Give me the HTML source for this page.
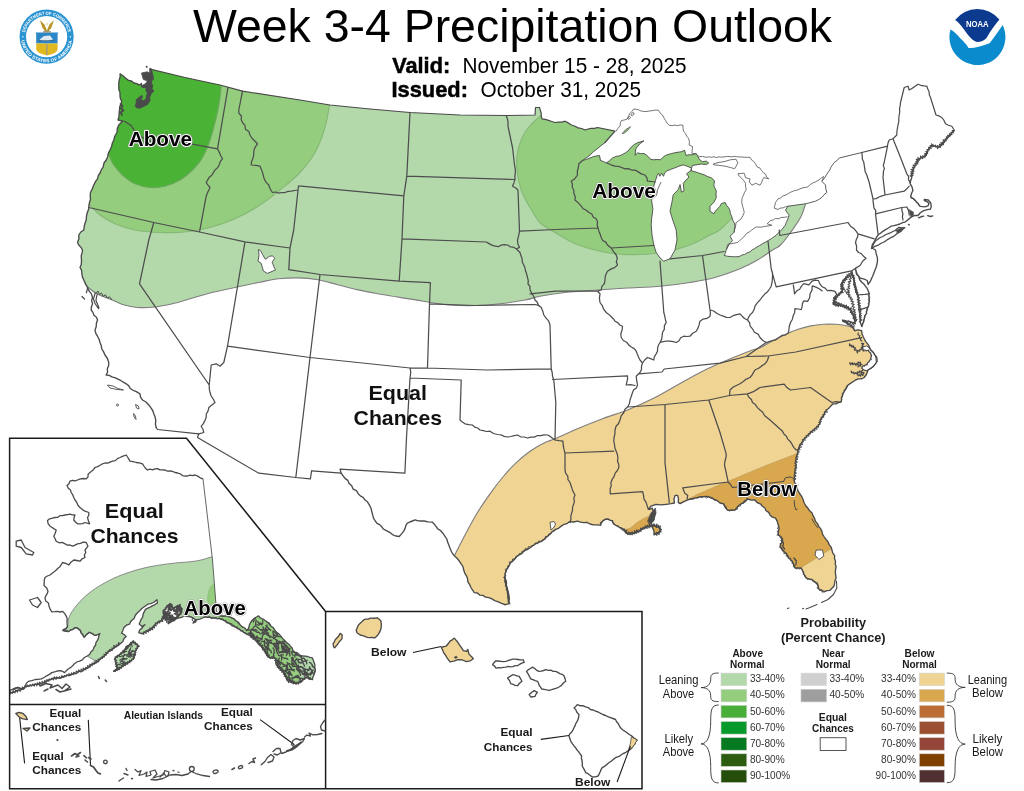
<!DOCTYPE html><html><head><meta charset="utf-8"><title>Week 3-4 Precipitation Outlook</title>
<style>html,body{margin:0;padding:0;background:#fff}svg{display:block;will-change:transform}text{font-family:"Liberation Sans",sans-serif}.b{font-weight:bold}</style></head><body>
<svg width="1024" height="791" viewBox="0 0 1024 791">
<rect width="1024" height="791" fill="#fff"/>
<defs>
<clipPath id="cl"><path d="M150.2 69.2 L185 77.5 L220 85 L242.5 91.2 L300 100 L330 105 L370 109 L410 112.5 L460 115 L507.5 115.5 L535 115 L535.3 111.3 L535.5 107.5 L539.5 107.5 L540.3 110.3 L541.2 113 L541.2 116 L542 118.8 L545.3 119.4 L548.6 120.4 L551.8 121.5 L555 122.5 L558.3 122.2 L561.7 122.1 L565 121.2 L568.3 122.9 L571.5 125 L575 126.2 L578.2 127.9 L581.7 128.5 L585 130 L588 129 L591.2 128.4 L594.4 128.4 L597.5 127.5 L615 131.2 L605 142.5 L592.5 152.5 L590.3 154.9 L587.7 156.8 L585.1 158.6 L582.5 160.5 L586.3 159.4 L590 158 L593.1 156.8 L596.2 156 L599.5 155.5 L600.5 160.5 L603.5 161.5 L606.2 163 L609.5 160.7 L612.5 158 L615.7 156.5 L619.2 155.9 L622.5 154.5 L625.3 152.9 L628 151 L631.3 147.1 L634.2 144.6 L637.6 142.7 L640.8 141.8 L644 140.8 L639.5 144 L637.6 146.5 L635.7 149 L635.5 152.2 L635.1 155.4 L637.6 152.8 L640.7 153.7 L644 153.5 L646.4 155.1 L648.5 156.9 L650.3 159.2 L653.7 159.8 L657.1 159.5 L660.5 159.8 L662.8 157.4 L665.5 155.4 L668.7 154.3 L671.9 153.5 L675 152.7 L678.2 152.2 L681.5 151.7 L684.6 150.3 L685.9 155.4 L689 154.8 L692.2 154.8 L696 153.5 L697.8 156.2 L699.2 159.2 L702.4 161.7 L706.2 161.1 L708.7 163 L706.2 164.5 L701.1 164 L696 164.9 L692.2 165.5 L691.6 168.1 L690.9 170.6 L694.1 171.6 L697.3 172.5 L701.1 173.8 L704.9 175.1 L707.9 176.8 L711.2 177.6 L714.4 180.8 L713.8 185.9 L716.3 190.9 L716 194.1 L716.3 197.3 L715.2 199.9 L713.8 202.4 L710 206.2 L710 211.2 L713.8 213.8 L715.5 211.1 L717.6 208.7 L719.8 206.4 L721.4 203.6 L725.2 202.4 L726.4 205.2 L728.4 207.4 L729.9 210.2 L730.3 213.4 L731.6 216.3 L732.8 220.2 L734.7 223.9 L735 228 L733.8 232.5 L730 236.2 L732.5 240.5 L730.5 242.7 L728.8 245 L726.2 250 L725.5 252.8 L724.2 255.5 L727.7 256.3 L731.2 256.6 L735.2 256.8 L739.1 256.6 L741.7 255.1 L744.6 254.4 L747.2 252.8 L750 251.9 L752.1 249.9 L754.6 248.6 L757 247 L759.4 245.6 L762.5 243.7 L765.7 242.1 L768.8 240.2 L771.3 238.7 L773.7 237 L776.1 235.3 L778.1 233.1 L780.8 230.8 L783 228.1 L785.2 225.3 L786.2 222.6 L787.5 220 L789.2 215 L787.1 212.7 L785.5 210 L788 206.2 L805.5 203.8 L808.9 203 L812.2 202.1 L815.5 201.2 L818.7 199.5 L821.8 197.5 L824 194.7 L826.8 192.5 L825.8 188.8 L825.5 185 L821.8 181.2 L824.2 178.6 L826 175.5 L828 172.5 L829.7 170.1 L830.8 167.3 L832.6 164.9 L834.2 162.5 L837 160.6 L839.2 158 L861.8 152.5 L887.5 146.2 L888 143 L889.2 140 L893 138.8 L896.8 135 L896.9 131.6 L897.4 128.3 L898 125 L898.8 121.7 L898.8 118.3 L899.2 115 L899.8 111.9 L899.5 108.7 L900.2 105.6 L900.5 102.5 L904.2 87.5 L908 86.2 L909.2 90 L912.3 88.3 L915.1 86.2 L918 84.2 L920.8 85.3 L923.8 85.9 L926.8 86.2 L927.8 89 L929.1 91.7 L929.3 94.8 L930.5 97.5 L936 115 L939 115.9 L941.8 117.5 L944 120.4 L945.5 123.8 L948.5 125.2 L951.8 126.2 L954.2 130 L952.1 132.3 L950.5 135 L946.8 138.8 L944.8 141.2 L943 143.8 L940.4 145.5 L938 147.5 L933 145 L930.1 147.1 L928 150 L927.1 153.3 L925.5 156.2 L922.3 157.3 L919.2 158.8 L916.8 161.6 L915.5 165 L913 170 L911.7 173.6 L911.8 177.5 L910 182.5 L910.1 183.7 L912 186.9 L912.9 190.5 L911.5 193.5 L910.6 196.7 L914.6 199.6 L918 203.6 L920.3 206.4 L924.8 206.9 L928 205.8 L929 203.5 L927 201.5 L924.3 200.5 L924.3 199.3 L928 199.8 L930.8 203 L931.2 207 L930.3 209.3 L928.3 209.3 L923.7 210.6 L920.3 212.7 L918 215.5 L914.6 215.5 L911.2 217.2 L908.9 218.9 L905.5 221.8 L902.6 222.7 L899.8 224 L896.9 224.8 L894.1 225.7 L891 226.2 L888.4 228 L885.6 229.7 L882.8 231.4 L880.5 233.2 L878.2 234.8 L875.9 238.3 L874.2 242 L872.3 244.7 L871.8 248 L875.5 250 L876.2 253.9 L877.4 257.6 L877.5 260.8 L877 264 L876.2 267.2 L874.9 270.3 L873.8 273.2 L872.7 276 L870.4 281.1 L868.2 284.5 L867.3 280.5 L863.5 278.9 L860.3 278.2 L857.1 274.1 L855.5 269 L856.5 274.1 L858.7 276.6 L859.7 279.8 L861.8 282.2 L864.1 284.3 L867.3 288.7 L869.2 293.2 L868.9 296.4 L869.4 299.5 L869.1 302.7 L868.5 305.9 L866.9 309.6 L866.4 313.5 L864.6 316.4 L864.1 319.8 L862.9 323.2 L861.9 326.6 L860.3 322.4 L860.5 319.4 L859.5 316.5 L860 313.5 L858.8 309.8 L859 305.9 L858.4 300.8 L858.5 297.4 L857.1 294.4 L855.8 291.3 L855.2 288.1 L854.1 285 L853.9 281.7 L853.8 278.1 L852.4 274.8 L851.7 271.8 L848.9 275.4 L846.1 277.3 L843.8 279.8 L840.9 284.5 L842.3 287.4 L842.5 290.6 L839.3 293.8 L837 296.2 L834.3 298.2 L834.1 301.2 L833 304 L837.4 305.2 L840.7 305.5 L843.8 306.5 L847 307 L849.5 309 L852.7 313.5 L853.6 316.7 L854.6 319.8 L855.2 323.6 L851.9 322.6 L848.9 321.1 L845.7 320.8 L842.5 320.2 L845.4 321.9 L847.6 324.3 L850.5 325.3 L852.7 327.4 L854.6 330.6 L858.1 329.9 L861.6 330.6 L861.9 333.5 L863 336.2 L864.2 338.8 L865.7 341.6 L867.9 344.1 L869.4 346.9 L870.5 350 L873.1 352.1 L874.9 354.8 L876.8 357.5 L877.2 361.2 L875.5 363.8 L873.5 366.4 L870.7 368.2 L868 370 L866.6 374 L864.2 377.5 L861.5 378.8 L858.3 378.9 L855.5 380 L853 381.7 L850.5 383.4 L848 385 L846.5 388 L844.6 390.8 L843 393.8 L841.7 397.7 L841.2 401.8 L838.6 402.7 L835.9 403.8 L833 403.8 L830.9 405.9 L829 408.1 L826.8 410 L824.7 412.3 L823.9 415.3 L821.8 417.5 L820 420.2 L820 423.6 L818 426.2 L814.8 428.7 L811.8 431.2 L808.9 434.2 L806 437 L803 440 L802 442.7 L799.9 444.8 L798.9 447.4 L797.9 450.1 L797.8 453.2 L796.6 456 L796 459 L795.5 462.1 L796.1 465.4 L795.8 468.5 L794.8 471.6 L794.5 475 L794.2 478.3 L794.4 481.7 L795.6 484.6 L796.8 487.6 L797.9 490.6 L799.6 493.5 L801.6 496.3 L803 499.4 L804.1 502.7 L805.7 505.7 L808 508.3 L809.7 510.8 L812 512.9 L813.1 515.9 L814.6 518.4 L815.5 521.4 L817.5 523.6 L818.7 526.4 L820.6 528.6 L821.9 531.2 L822.5 534.1 L824 536.5 L825.6 538.9 L827.8 541.5 L829.2 544.6 L831.2 547.3 L832 550.2 L832.8 553.1 L834.7 555.6 L834.5 558.5 L835.5 561.2 L835.3 564.1 L836.1 566.8 L835.4 570.5 L835.5 574.2 L836.1 577.9 L835 580.6 L834.6 583.4 L834 586.2 L831.9 588.3 L829.8 590.4 L826.9 590.6 L824.2 591.8 L821.5 590.2 L818.7 589 L818.3 586.1 L817.3 583.4 L814.2 581.7 L811.7 579.3 L808.8 579.2 L806.2 577.9 L804.1 574.6 L802.7 570.9 L801.3 568.1 L798.1 568 L795 568.1 L793.7 564.6 L792.2 561.2 L789.8 559.1 L787.7 556.7 L786.5 553.5 L783.9 551.5 L780.4 547.3 L780.4 544.3 L782.5 541.9 L782.5 538.9 L780.7 536.5 L778.3 534.8 L778.4 531.5 L779.1 528.3 L778.3 525 L777.2 521.4 L775.6 518.1 L772.4 517.2 L770 515 L768.7 512.4 L766.1 510.7 L764.9 508 L762.5 506.2 L760.3 503.8 L757.1 502.5 L755 500 L751.1 500.1 L747.5 498.8 L744.9 501.8 L741.2 503.8 L738.8 505.5 L736.8 507.6 L735 510 L731.2 510.4 L727.5 510 L725.1 507.2 L723.8 503.8 L720 503 L716.9 500.5 L713.7 499.1 L710.6 497.3 L707.5 496.5 L704.2 496.7 L701 496.6 L697.9 497.3 L692.8 498.6 L687.8 499.8 L683.9 501.7 L680.1 503.6 L678.2 502.4 L678.5 498.8 L677.6 495.4 L675.1 495.4 L674 499.1 L674.4 503 L671.2 503.6 L666.2 504.3 L661.1 504.9 L656 504.3 L650.9 506.2 L648.4 509.4 L649.7 509.4 L652.2 508.1 L653.1 510.8 L654.8 513.2 L653.9 516.3 L654.1 519.5 L650.9 523.3 L652.2 527.1 L653.9 530.7 L654.1 534.8 L656.3 532.8 L659.2 532.2 L660.5 528.4 L656 525.9 L650.9 525.9 L647.6 526.3 L644.6 527.8 L642 529.2 L639.5 530.9 L636.5 532.5 L633.2 533.5 L630 534.1 L626.8 533.5 L624.7 531.4 L623 529 L620.3 528 L617.9 526.5 L613.5 524 L612.2 520.8 L609.3 519.9 L606.5 518.9 L602.7 520.8 L600.2 525.2 L596.8 524.9 L593.3 524.9 L590 524 L586.9 522.3 L583.7 522.6 L580.6 522.1 L577.5 521.2 L573.6 522 L569.7 521.6 L566.8 523.7 L563.4 524.7 L560.9 526.4 L558.5 528.3 L555.6 529.4 L552.2 531.7 L549.4 534.8 L546.2 537.5 L543.1 540.3 L540 541.9 L536.8 543.2 L533.8 545 L530.8 547.2 L527.9 549.3 L524.4 550.5 L522.2 553.1 L519.4 554.8 L516.6 556.7 L514.7 559 L512.7 561.2 L510.3 563 L508.6 566.7 L506.4 570 L505.1 573.8 L504.8 577.8 L506.4 581.5 L506.4 585.6 L507.3 588.7 L508.1 591.8 L508.8 595 L509.3 597.8 L508.9 600.8 L509.5 603.6 L505 604.7 L501.6 603.3 L498.2 601.8 L494.7 600.6 L491.9 598.9 L488.9 597.7 L485.6 597.2 L483 595.4 L479.9 595.2 L477.4 593 L474.3 592.6 L472.6 590.1 L470.9 587.5 L469.7 584.7 L467.9 581.9 L467.5 578.6 L466.3 575.6 L464.6 572.8 L463.7 569.7 L462.9 566.5 L461.1 563.8 L459.3 561.1 L457.3 558.5 L454.9 556.2 L452.8 554 L451.4 551.5 L450.2 548.8 L449.2 546 L447.8 542.6 L446.8 539 L444.7 535.8 L442.8 533.2 L440.7 530.7 L437.9 529 L436.1 526.6 L434.3 524.2 L432.2 522.1 L428.1 521.9 L424.2 521 L421.1 521 L418.1 520.8 L415.1 519.9 L412.4 521 L409.7 522 L407.1 523.3 L405.8 525.9 L405 528.6 L403.7 531.2 L401.6 533.9 L399.2 536.5 L395.7 536 L392.4 534.6 L389.7 532.3 L386.4 530.7 L383.3 529 L381.6 526.7 L379.7 524.6 L377 523.3 L375.3 521 L373.5 518.2 L372.7 515.1 L371.9 511.9 L371 508.2 L369.3 504.9 L367.3 501.7 L364.9 499.8 L363.1 497.3 L360.3 495.9 L358.2 493.7 L356.4 490.7 L353.1 489.1 L351.7 485.8 L349.1 483.5 L347.8 480.4 L345 478.4 L343.1 475.8 L341.2 473.2 L311.6 470.9 L311 474.8 L310.4 478.8 L295.8 477.5 L258.8 473.2 L197.5 437.5 L198.8 433.8 L157.5 429.5 L156.2 427.5 L155.4 424.1 L155.8 420.5 L155.1 417.1 L153.8 413.8 L152.7 410.5 L150.8 407.7 L148.8 405 L146 402 L142.5 400 L140.5 397.2 L140 393.8 L136.3 391.7 L132.5 390 L130.1 388.2 L128.6 385.6 L126.2 383.8 L123.3 382.2 L120.5 380.3 L117.5 378.8 L114.7 377.7 L111.9 376.8 L109.2 375.4 L106.2 375 L107.6 372 L107.3 368.7 L108.6 365.7 L108.8 362.5 L107.4 358.5 L105 355 L103.6 351.9 L101.9 349 L101.2 345.6 L100 342.5 L99.1 339.2 L97.5 336.2 L95.8 333.3 L95 330 L96.2 326.7 L96.4 323.3 L97.5 320 L96.5 317.2 L93.9 315.3 L92.9 312.4 L91.2 310 L91.4 306.9 L92.6 303.8 L91.6 300.6 L92.5 297.5 L91.4 293.9 L89 290.9 L87.5 287.5 L85.4 283.8 L83.8 280 L82.4 277 L81.9 273.8 L81.6 270.4 L80 267.5 L81.2 264.7 L81.5 261.8 L81.4 258.8 L81.2 255.8 L82.1 252.9 L82.5 250 L81 247.4 L78.9 245.2 L77.5 242.5 L78.9 238.9 L78.8 235 L80.8 232 L83.8 230 L84.2 226.6 L85 223.2 L86.2 220 L86.4 217.1 L86.8 214.2 L87.7 211.5 L88.8 208.8 L88.9 205.6 L89.5 202.5 L90.5 199.2 L90.2 195.8 L90.5 192.5 L92.3 188.8 L93.8 185 L95.4 181.7 L97.5 178.8 L98.3 175.6 L100.1 173 L101.2 170 L103.2 166.8 L104 163 L106.2 160 L107.7 156.8 L108.3 153.2 L110 150 L111.5 146.8 L112.3 143.3 L113.8 140 L114.9 136 L117 132.5 L117.3 128.6 L118.8 125 L122.5 121.2 L118 120 L119 116.7 L119.1 113.3 L119.5 110 L119.7 106.7 L121.2 103.8 L121.6 100.9 L120.3 98.2 L120 95.4 L120 92.5 L118.8 89.3 L118.8 85.9 L118.8 82.5 L119.3 79.6 L120.2 76.8 L120 73.8 L123 75.7 L125.7 78.2 L128.5 80.4 L131.5 81 L133.9 83 L136.9 83.6 L139.5 85.1 L141.4 83.5 L141.8 86.6 L146 87.4 L150 84 L150.4 80 L151.2 76 L150.3 72.7 L150.2 69.2Z M871.4 248.5 L872.7 245.7 L874.1 243 L875.9 240.5 L878.1 239.1 L880.3 237.5 L882.8 236.5 L886 234.5 L889.6 233.2 L892.4 231.7 L895.3 230.3 L898.7 227.4 L901.8 227.9 L904.9 227.6 L902.7 229.3 L901 231.4 L898 233 L895.3 235.1 L893.1 236.7 L890.7 237.7 L888.4 239.1 L886.2 240.6 L884 242 L881.6 243 L878.4 245.1 L874.8 246.4Z"/></clipPath>
<clipPath id="ca"><path d="M203 478.8 L195 475 L185 476.2 L175 472.5 L165 470 L155 468.8 L147.5 470 L142.5 463.8 L136.2 462.5 L130 461.2 L126.2 455 L120 457.5 L112.5 461.2 L102.5 463.8 L95 467.5 L90 472.5 L86.2 478.8 L77.5 480 L70 481.2 L67 485.5 L71.2 492.5 L75 500 L80 507.5 L85 511.2 L88.8 512.5 L87.5 517.5 L89.5 523.8 L85 522.5 L77.5 523.8 L73.8 520 L75 515 L65 515 L55 517.5 L47.5 520.5 L50 526.2 L56.2 530 L53.8 536.2 L56.2 541.2 L65 543.8 L72.5 546.2 L77.5 543.8 L86.2 542.5 L88 546.2 L85 550 L85 557.5 L80 561.2 L73.8 560 L68.8 565 L62.5 562.5 L56.2 570 L50 575 L45 577.5 L44 585.5 L48 591.3 L45 598.2 L49 606 L51.9 611.9 L62.7 611.3 L66.6 616.8 L67.6 626.6 L62.7 630.5 L68.6 631.5 L75.4 627.6 L80.3 630.5 L84.2 637.4 L89.1 632.5 L96 635.4 L99.9 633.5 L96 642.3 L93 650.1 L87.2 656 L82.3 659.9 L74.4 663.8 L68.6 668.7 L64.6 672.6 L58.8 670.7 L51.9 672.6 L44.1 677.5 L35.3 679.5 L28.4 681.4 L25.5 685.4 L23.5 689.3 L17.6 687.3 L9.8 690.3 L9.8 693.2 L19.6 690.3 L26.4 686.3 L39.2 684.4 L50.9 679.5 L64.6 676.6 L74.4 673.6 L84.2 669.7 L94 663.8 L101.9 657.9 L106.8 653.7 L113.7 648 L120.5 643.5 L126.2 636.6 L121.6 633.2 L123.9 627.5 L129.6 624.1 L134.1 618.4 L137.5 612.8 L142.1 608.2 L147.8 604.2 L153.5 602.5 L156.9 599.7 L157.5 603 L154.6 604.8 L150.1 607.1 L145.5 609.3 L143.2 613.9 L141 619.6 L139.2 624.1 L142.1 626.4 L144.9 624.7 L139.8 629.8 L138.7 632.7 L142.1 633.8 L147.8 631 L152.3 627.5 L156.9 623 L161.4 620.7 L163.7 616.2 L163.1 610.5 L167.1 605.9 L170.5 603.6 L172.8 608.2 L179.6 604.8 L181.9 610.5 L178.5 616.2 L172.8 619.6 L168.3 623.6 L176 619 L184.2 615.6 L191 616.7 L195.6 619.6 L193.3 623 L196.8 619.7 L204.6 616.8 L214.4 617.8 L222.3 619.7 L230.1 623.7 L237.9 628.6 L243.8 632.5 L249.7 635.4 L255.6 640.3 L261.4 646.2 L265.4 652.1 L269.3 657.9 L275.2 657.9 L277.1 665.8 L281 669.7 L285 675.6 L288.9 681.4 L294.8 683.4 L300.6 682.4 L306.5 677.5 L312.4 679.5 L315.3 669.7 L312.4 657.9 L302.6 656 L294.8 652.1 L288.9 644.2 L281 636.4 L273.2 627.6 L265.4 620.7 L258.5 615.8 L251.7 620.7 L246.8 630.5 L241.9 626.6 L234 618.8 L226.2 615.8 L216.8 614.8 L212.5 560Z M113.7 671.3 L117.1 668.5 L114.8 658.2 L120.5 653.7 L127.3 646.9 L133 641.2 L138.7 645.8 L135.3 651.4 L134.1 658.2 L128.4 662.8 L122.8 666.2 L118.2 669.6Z"/></clipPath>
</defs>
<path d="M150.2 69.2 L185 77.5 L220 85 L242.5 91.2 L300 100 L330 105 L370 109 L410 112.5 L460 115 L507.5 115.5 L535 115 L535.3 111.3 L535.5 107.5 L539.5 107.5 L540.3 110.3 L541.2 113 L541.2 116 L542 118.8 L545.3 119.4 L548.6 120.4 L551.8 121.5 L555 122.5 L558.3 122.2 L561.7 122.1 L565 121.2 L568.3 122.9 L571.5 125 L575 126.2 L578.2 127.9 L581.7 128.5 L585 130 L588 129 L591.2 128.4 L594.4 128.4 L597.5 127.5 L615 131.2 L605 142.5 L592.5 152.5 L590.3 154.9 L587.7 156.8 L585.1 158.6 L582.5 160.5 L586.3 159.4 L590 158 L593.1 156.8 L596.2 156 L599.5 155.5 L600.5 160.5 L603.5 161.5 L606.2 163 L609.5 160.7 L612.5 158 L615.7 156.5 L619.2 155.9 L622.5 154.5 L625.3 152.9 L628 151 L631.3 147.1 L634.2 144.6 L637.6 142.7 L640.8 141.8 L644 140.8 L639.5 144 L637.6 146.5 L635.7 149 L635.5 152.2 L635.1 155.4 L637.6 152.8 L640.7 153.7 L644 153.5 L646.4 155.1 L648.5 156.9 L650.3 159.2 L653.7 159.8 L657.1 159.5 L660.5 159.8 L662.8 157.4 L665.5 155.4 L668.7 154.3 L671.9 153.5 L675 152.7 L678.2 152.2 L681.5 151.7 L684.6 150.3 L685.9 155.4 L689 154.8 L692.2 154.8 L696 153.5 L697.8 156.2 L699.2 159.2 L702.4 161.7 L706.2 161.1 L708.7 163 L706.2 164.5 L701.1 164 L696 164.9 L692.2 165.5 L691.6 168.1 L690.9 170.6 L694.1 171.6 L697.3 172.5 L701.1 173.8 L704.9 175.1 L707.9 176.8 L711.2 177.6 L714.4 180.8 L713.8 185.9 L716.3 190.9 L716 194.1 L716.3 197.3 L715.2 199.9 L713.8 202.4 L710 206.2 L710 211.2 L713.8 213.8 L715.5 211.1 L717.6 208.7 L719.8 206.4 L721.4 203.6 L725.2 202.4 L726.4 205.2 L728.4 207.4 L729.9 210.2 L730.3 213.4 L731.6 216.3 L732.8 220.2 L734.7 223.9 L735 228 L733.8 232.5 L730 236.2 L732.5 240.5 L730.5 242.7 L728.8 245 L726.2 250 L725.5 252.8 L724.2 255.5 L727.7 256.3 L731.2 256.6 L735.2 256.8 L739.1 256.6 L741.7 255.1 L744.6 254.4 L747.2 252.8 L750 251.9 L752.1 249.9 L754.6 248.6 L757 247 L759.4 245.6 L762.5 243.7 L765.7 242.1 L768.8 240.2 L771.3 238.7 L773.7 237 L776.1 235.3 L778.1 233.1 L780.8 230.8 L783 228.1 L785.2 225.3 L786.2 222.6 L787.5 220 L789.2 215 L787.1 212.7 L785.5 210 L788 206.2 L805.5 203.8 L808.9 203 L812.2 202.1 L815.5 201.2 L818.7 199.5 L821.8 197.5 L824 194.7 L826.8 192.5 L825.8 188.8 L825.5 185 L821.8 181.2 L824.2 178.6 L826 175.5 L828 172.5 L829.7 170.1 L830.8 167.3 L832.6 164.9 L834.2 162.5 L837 160.6 L839.2 158 L861.8 152.5 L887.5 146.2 L888 143 L889.2 140 L893 138.8 L896.8 135 L896.9 131.6 L897.4 128.3 L898 125 L898.8 121.7 L898.8 118.3 L899.2 115 L899.8 111.9 L899.5 108.7 L900.2 105.6 L900.5 102.5 L904.2 87.5 L908 86.2 L909.2 90 L912.3 88.3 L915.1 86.2 L918 84.2 L920.8 85.3 L923.8 85.9 L926.8 86.2 L927.8 89 L929.1 91.7 L929.3 94.8 L930.5 97.5 L936 115 L939 115.9 L941.8 117.5 L944 120.4 L945.5 123.8 L948.5 125.2 L951.8 126.2 L954.2 130 L952.1 132.3 L950.5 135 L946.8 138.8 L944.8 141.2 L943 143.8 L940.4 145.5 L938 147.5 L933 145 L930.1 147.1 L928 150 L927.1 153.3 L925.5 156.2 L922.3 157.3 L919.2 158.8 L916.8 161.6 L915.5 165 L913 170 L911.7 173.6 L911.8 177.5 L910 182.5 L910.1 183.7 L912 186.9 L912.9 190.5 L911.5 193.5 L910.6 196.7 L914.6 199.6 L918 203.6 L920.3 206.4 L924.8 206.9 L928 205.8 L929 203.5 L927 201.5 L924.3 200.5 L924.3 199.3 L928 199.8 L930.8 203 L931.2 207 L930.3 209.3 L928.3 209.3 L923.7 210.6 L920.3 212.7 L918 215.5 L914.6 215.5 L911.2 217.2 L908.9 218.9 L905.5 221.8 L902.6 222.7 L899.8 224 L896.9 224.8 L894.1 225.7 L891 226.2 L888.4 228 L885.6 229.7 L882.8 231.4 L880.5 233.2 L878.2 234.8 L875.9 238.3 L874.2 242 L872.3 244.7 L871.8 248 L875.5 250 L876.2 253.9 L877.4 257.6 L877.5 260.8 L877 264 L876.2 267.2 L874.9 270.3 L873.8 273.2 L872.7 276 L870.4 281.1 L868.2 284.5 L867.3 280.5 L863.5 278.9 L860.3 278.2 L857.1 274.1 L855.5 269 L856.5 274.1 L858.7 276.6 L859.7 279.8 L861.8 282.2 L864.1 284.3 L867.3 288.7 L869.2 293.2 L868.9 296.4 L869.4 299.5 L869.1 302.7 L868.5 305.9 L866.9 309.6 L866.4 313.5 L864.6 316.4 L864.1 319.8 L862.9 323.2 L861.9 326.6 L860.3 322.4 L860.5 319.4 L859.5 316.5 L860 313.5 L858.8 309.8 L859 305.9 L858.4 300.8 L858.5 297.4 L857.1 294.4 L855.8 291.3 L855.2 288.1 L854.1 285 L853.9 281.7 L853.8 278.1 L852.4 274.8 L851.7 271.8 L848.9 275.4 L846.1 277.3 L843.8 279.8 L840.9 284.5 L842.3 287.4 L842.5 290.6 L839.3 293.8 L837 296.2 L834.3 298.2 L834.1 301.2 L833 304 L837.4 305.2 L840.7 305.5 L843.8 306.5 L847 307 L849.5 309 L852.7 313.5 L853.6 316.7 L854.6 319.8 L855.2 323.6 L851.9 322.6 L848.9 321.1 L845.7 320.8 L842.5 320.2 L845.4 321.9 L847.6 324.3 L850.5 325.3 L852.7 327.4 L854.6 330.6 L858.1 329.9 L861.6 330.6 L861.9 333.5 L863 336.2 L864.2 338.8 L865.7 341.6 L867.9 344.1 L869.4 346.9 L870.5 350 L873.1 352.1 L874.9 354.8 L876.8 357.5 L877.2 361.2 L875.5 363.8 L873.5 366.4 L870.7 368.2 L868 370 L866.6 374 L864.2 377.5 L861.5 378.8 L858.3 378.9 L855.5 380 L853 381.7 L850.5 383.4 L848 385 L846.5 388 L844.6 390.8 L843 393.8 L841.7 397.7 L841.2 401.8 L838.6 402.7 L835.9 403.8 L833 403.8 L830.9 405.9 L829 408.1 L826.8 410 L824.7 412.3 L823.9 415.3 L821.8 417.5 L820 420.2 L820 423.6 L818 426.2 L814.8 428.7 L811.8 431.2 L808.9 434.2 L806 437 L803 440 L802 442.7 L799.9 444.8 L798.9 447.4 L797.9 450.1 L797.8 453.2 L796.6 456 L796 459 L795.5 462.1 L796.1 465.4 L795.8 468.5 L794.8 471.6 L794.5 475 L794.2 478.3 L794.4 481.7 L795.6 484.6 L796.8 487.6 L797.9 490.6 L799.6 493.5 L801.6 496.3 L803 499.4 L804.1 502.7 L805.7 505.7 L808 508.3 L809.7 510.8 L812 512.9 L813.1 515.9 L814.6 518.4 L815.5 521.4 L817.5 523.6 L818.7 526.4 L820.6 528.6 L821.9 531.2 L822.5 534.1 L824 536.5 L825.6 538.9 L827.8 541.5 L829.2 544.6 L831.2 547.3 L832 550.2 L832.8 553.1 L834.7 555.6 L834.5 558.5 L835.5 561.2 L835.3 564.1 L836.1 566.8 L835.4 570.5 L835.5 574.2 L836.1 577.9 L835 580.6 L834.6 583.4 L834 586.2 L831.9 588.3 L829.8 590.4 L826.9 590.6 L824.2 591.8 L821.5 590.2 L818.7 589 L818.3 586.1 L817.3 583.4 L814.2 581.7 L811.7 579.3 L808.8 579.2 L806.2 577.9 L804.1 574.6 L802.7 570.9 L801.3 568.1 L798.1 568 L795 568.1 L793.7 564.6 L792.2 561.2 L789.8 559.1 L787.7 556.7 L786.5 553.5 L783.9 551.5 L780.4 547.3 L780.4 544.3 L782.5 541.9 L782.5 538.9 L780.7 536.5 L778.3 534.8 L778.4 531.5 L779.1 528.3 L778.3 525 L777.2 521.4 L775.6 518.1 L772.4 517.2 L770 515 L768.7 512.4 L766.1 510.7 L764.9 508 L762.5 506.2 L760.3 503.8 L757.1 502.5 L755 500 L751.1 500.1 L747.5 498.8 L744.9 501.8 L741.2 503.8 L738.8 505.5 L736.8 507.6 L735 510 L731.2 510.4 L727.5 510 L725.1 507.2 L723.8 503.8 L720 503 L716.9 500.5 L713.7 499.1 L710.6 497.3 L707.5 496.5 L704.2 496.7 L701 496.6 L697.9 497.3 L692.8 498.6 L687.8 499.8 L683.9 501.7 L680.1 503.6 L678.2 502.4 L678.5 498.8 L677.6 495.4 L675.1 495.4 L674 499.1 L674.4 503 L671.2 503.6 L666.2 504.3 L661.1 504.9 L656 504.3 L650.9 506.2 L648.4 509.4 L649.7 509.4 L652.2 508.1 L653.1 510.8 L654.8 513.2 L653.9 516.3 L654.1 519.5 L650.9 523.3 L652.2 527.1 L653.9 530.7 L654.1 534.8 L656.3 532.8 L659.2 532.2 L660.5 528.4 L656 525.9 L650.9 525.9 L647.6 526.3 L644.6 527.8 L642 529.2 L639.5 530.9 L636.5 532.5 L633.2 533.5 L630 534.1 L626.8 533.5 L624.7 531.4 L623 529 L620.3 528 L617.9 526.5 L613.5 524 L612.2 520.8 L609.3 519.9 L606.5 518.9 L602.7 520.8 L600.2 525.2 L596.8 524.9 L593.3 524.9 L590 524 L586.9 522.3 L583.7 522.6 L580.6 522.1 L577.5 521.2 L573.6 522 L569.7 521.6 L566.8 523.7 L563.4 524.7 L560.9 526.4 L558.5 528.3 L555.6 529.4 L552.2 531.7 L549.4 534.8 L546.2 537.5 L543.1 540.3 L540 541.9 L536.8 543.2 L533.8 545 L530.8 547.2 L527.9 549.3 L524.4 550.5 L522.2 553.1 L519.4 554.8 L516.6 556.7 L514.7 559 L512.7 561.2 L510.3 563 L508.6 566.7 L506.4 570 L505.1 573.8 L504.8 577.8 L506.4 581.5 L506.4 585.6 L507.3 588.7 L508.1 591.8 L508.8 595 L509.3 597.8 L508.9 600.8 L509.5 603.6 L505 604.7 L501.6 603.3 L498.2 601.8 L494.7 600.6 L491.9 598.9 L488.9 597.7 L485.6 597.2 L483 595.4 L479.9 595.2 L477.4 593 L474.3 592.6 L472.6 590.1 L470.9 587.5 L469.7 584.7 L467.9 581.9 L467.5 578.6 L466.3 575.6 L464.6 572.8 L463.7 569.7 L462.9 566.5 L461.1 563.8 L459.3 561.1 L457.3 558.5 L454.9 556.2 L452.8 554 L451.4 551.5 L450.2 548.8 L449.2 546 L447.8 542.6 L446.8 539 L444.7 535.8 L442.8 533.2 L440.7 530.7 L437.9 529 L436.1 526.6 L434.3 524.2 L432.2 522.1 L428.1 521.9 L424.2 521 L421.1 521 L418.1 520.8 L415.1 519.9 L412.4 521 L409.7 522 L407.1 523.3 L405.8 525.9 L405 528.6 L403.7 531.2 L401.6 533.9 L399.2 536.5 L395.7 536 L392.4 534.6 L389.7 532.3 L386.4 530.7 L383.3 529 L381.6 526.7 L379.7 524.6 L377 523.3 L375.3 521 L373.5 518.2 L372.7 515.1 L371.9 511.9 L371 508.2 L369.3 504.9 L367.3 501.7 L364.9 499.8 L363.1 497.3 L360.3 495.9 L358.2 493.7 L356.4 490.7 L353.1 489.1 L351.7 485.8 L349.1 483.5 L347.8 480.4 L345 478.4 L343.1 475.8 L341.2 473.2 L311.6 470.9 L311 474.8 L310.4 478.8 L295.8 477.5 L258.8 473.2 L197.5 437.5 L198.8 433.8 L157.5 429.5 L156.2 427.5 L155.4 424.1 L155.8 420.5 L155.1 417.1 L153.8 413.8 L152.7 410.5 L150.8 407.7 L148.8 405 L146 402 L142.5 400 L140.5 397.2 L140 393.8 L136.3 391.7 L132.5 390 L130.1 388.2 L128.6 385.6 L126.2 383.8 L123.3 382.2 L120.5 380.3 L117.5 378.8 L114.7 377.7 L111.9 376.8 L109.2 375.4 L106.2 375 L107.6 372 L107.3 368.7 L108.6 365.7 L108.8 362.5 L107.4 358.5 L105 355 L103.6 351.9 L101.9 349 L101.2 345.6 L100 342.5 L99.1 339.2 L97.5 336.2 L95.8 333.3 L95 330 L96.2 326.7 L96.4 323.3 L97.5 320 L96.5 317.2 L93.9 315.3 L92.9 312.4 L91.2 310 L91.4 306.9 L92.6 303.8 L91.6 300.6 L92.5 297.5 L91.4 293.9 L89 290.9 L87.5 287.5 L85.4 283.8 L83.8 280 L82.4 277 L81.9 273.8 L81.6 270.4 L80 267.5 L81.2 264.7 L81.5 261.8 L81.4 258.8 L81.2 255.8 L82.1 252.9 L82.5 250 L81 247.4 L78.9 245.2 L77.5 242.5 L78.9 238.9 L78.8 235 L80.8 232 L83.8 230 L84.2 226.6 L85 223.2 L86.2 220 L86.4 217.1 L86.8 214.2 L87.7 211.5 L88.8 208.8 L88.9 205.6 L89.5 202.5 L90.5 199.2 L90.2 195.8 L90.5 192.5 L92.3 188.8 L93.8 185 L95.4 181.7 L97.5 178.8 L98.3 175.6 L100.1 173 L101.2 170 L103.2 166.8 L104 163 L106.2 160 L107.7 156.8 L108.3 153.2 L110 150 L111.5 146.8 L112.3 143.3 L113.8 140 L114.9 136 L117 132.5 L117.3 128.6 L118.8 125 L122.5 121.2 L118 120 L119 116.7 L119.1 113.3 L119.5 110 L119.7 106.7 L121.2 103.8 L121.6 100.9 L120.3 98.2 L120 95.4 L120 92.5 L118.8 89.3 L118.8 85.9 L118.8 82.5 L119.3 79.6 L120.2 76.8 L120 73.8 L123 75.7 L125.7 78.2 L128.5 80.4 L131.5 81 L133.9 83 L136.9 83.6 L139.5 85.1 L141.4 83.5 L141.8 86.6 L146 87.4 L150 84 L150.4 80 L151.2 76 L150.3 72.7 L150.2 69.2Z M871.4 248.5 L872.7 245.7 L874.1 243 L875.9 240.5 L878.1 239.1 L880.3 237.5 L882.8 236.5 L886 234.5 L889.6 233.2 L892.4 231.7 L895.3 230.3 L898.7 227.4 L901.8 227.9 L904.9 227.6 L902.7 229.3 L901 231.4 L898 233 L895.3 235.1 L893.1 236.7 L890.7 237.7 L888.4 239.1 L886.2 240.6 L884 242 L881.6 243 L878.4 245.1 L874.8 246.4Z" fill="#fff"/>
<g clip-path="url(#cl)" stroke-width="1.15">
<path d="M78 262 C78.8 264.6 81.2 273.7 82.6 277.6 C84 281.5 85.1 283.3 86.4 285.2 C87.7 287.1 88.7 287.7 90.2 289 C91.7 290.3 93.4 291.6 95.3 292.8 C97.2 293.9 98.9 294.7 101.6 295.9 C104.3 297.1 108.2 298.3 111.7 299.7 C115.2 301.1 118.2 303.2 122.5 304.5 C126.8 305.8 132.1 307.1 137.5 307.5 C142.9 307.9 149.2 307.6 155 307 C160.8 306.4 166.7 305.1 172.5 303.8 C178.3 302.4 183.8 300.5 190 298.8 C196.2 297 202.5 294.9 210 293 C217.5 291.1 226.8 289.3 235 287.5 C243.2 285.7 252.2 283.8 259.5 282.3 C266.8 280.9 272.5 279.5 279 278.8 C285.5 278.1 292.1 277.7 298.6 277.9 C305.1 278 311.6 278.7 318.1 279.8 C324.6 280.9 331.2 283.1 337.7 284.7 C344.2 286.3 350.7 288.1 357.2 289.6 C363.7 291.1 370.2 292.3 376.7 293.5 C383.2 294.7 389.7 295.7 396.2 296.8 C402.8 297.9 410.3 299 415.8 299.9 C421.3 300.8 423.8 301.4 429.5 302.3 C435.2 303.2 442.4 304.5 450 305 C457.6 305.5 466.7 305.7 475 305.5 C483.3 305.3 491.7 304.7 500 303.8 C508.3 302.8 518.3 301.2 525 300 C531.7 298.8 533.3 297.5 540 296.2 C546.7 295 555.4 293.5 565 292.5 C574.6 291.5 587.1 290.8 597.5 290 C607.9 289.2 617.1 288.6 627.5 288 C637.9 287.4 649.6 287.2 660 286.2 C670.4 285.3 680.8 284 690 282.5 C699.2 281 706.7 279.8 715 277.5 C723.3 275.2 732.9 271.7 740 268.8 C747.1 265.8 752.1 263.1 757.5 260 C762.9 256.9 768.7 252.5 772.5 250 C776.3 247.5 777.5 247.9 780.5 245 C783.5 242.1 787.2 237.1 790.5 232.5 C793.8 227.9 798 222.3 800.5 217.5 C803 212.7 804.2 208.3 805.5 203.8 C806.8 199.2 807.6 192.3 808 190 L808 55 L60 55 L60 262Z" fill="#b3d9ab" stroke="#7f7f7f"/>
<path d="M329.5 105 C328.8 108.8 327.4 119.6 325 127.5 C322.6 135.4 319.2 145 315 152.5 C310.8 160 305.8 166.2 300 172.5 C294.2 178.8 286.7 184.6 280 190 C273.3 195.4 267.5 200.2 260 205 C252.5 209.8 243.3 215 235 218.8 C226.7 222.5 218.3 225.3 210 227.5 C201.7 229.7 193.3 231.2 185 232 C176.7 232.8 168.3 232.8 160 232.5 C151.7 232.2 142.5 231.5 135 230 C127.5 228.5 120.8 226.2 115 223.8 C109.2 221.2 104 217.9 100 215 C96 212.1 94.2 209.1 91.2 206.2 C88.2 203.4 83.5 199.4 82 198 L70 190 L70 55 L331 55Z" fill="#94cd7e" stroke="#86b876"/>
<path d="M221.2 85 C221 87.1 220.8 92.1 220 97.5 C219.2 102.9 217.9 110.4 216.2 117.5 C214.6 124.6 212.3 133.3 210 140 C207.7 146.7 205.4 152.5 202.5 157.5 C199.6 162.5 196.2 166.2 192.5 170 C188.8 173.8 184.6 177.3 180 180 C175.4 182.7 170 185 165 186.2 C160 187.5 155 187.9 150 187.5 C145 187.1 139.6 185.8 135 183.8 C130.4 181.7 126 178.1 122.5 175 C119 171.9 116 168.3 113.8 165 C111.5 161.7 110.5 158 108.8 155 C107 152 104 148.3 103 147 L95 140 L95 55 L221 55Z" fill="#4ab336" stroke="#6aa85c"/>
<path d="M540 116.2 C533.3 121.7 528.8 126.5 525 132.5 C521.2 138.5 518.8 146.2 517.5 152.5 C516.2 158.8 516.4 163.8 517 170 C517.6 176.2 519.1 183.8 521.2 190 C523.4 196.2 526.9 202.1 530 207.5 C533.1 212.9 535.8 218.3 540 222.5 C544.2 226.7 549.6 229.2 555 232.5 C560.4 235.8 566.7 239.8 572.5 242.5 C578.3 245.2 582.9 246.9 590 248.8 C597.1 250.6 606.7 252.8 615 253.8 C623.3 254.7 631.7 254.8 640 254.5 C648.3 254.2 656.7 253.6 665 252 C673.3 250.4 682.5 247.8 690 245 C697.5 242.2 705.1 237.5 710 235 C714.9 232.5 715.9 232.8 719.5 230 C723.1 227.2 727.4 222.8 731.6 218.3 C735.9 213.8 741.6 209.4 745 203 C748.4 196.6 752 188.8 752 180 C752 171.2 750.3 160 745 150 C739.7 140 730.8 128.3 720 120 C709.2 111.7 696.7 104.7 680 100 C663.3 95.3 639.2 92 620 92 C600.8 92 578.3 96 565 100 C551.7 104 546.7 110.8 540 116.2Z" fill="#94cd7e" stroke="#86b876"/>
<path d="M454.5 555.5 C456.2 552.1 461.2 542.2 465 535 C468.8 527.8 473.3 519.4 477.5 512.5 C481.7 505.6 485.8 499.6 490 493.8 C494.2 487.9 498.3 482.5 502.5 477.5 C506.7 472.5 510.4 468.1 515 463.8 C519.6 459.4 525 454.8 530 451.2 C535 447.7 540.8 444.6 545 442.5 C549.2 440.4 549.6 441 555 438.8 C560.4 436.5 569.6 432.1 577.5 428.8 C585.4 425.4 594.2 421.9 602.5 418.8 C610.8 415.6 619.2 413.3 627.5 410 C635.8 406.7 644.2 402.9 652.5 398.8 C660.8 394.6 669.2 389.6 677.5 385 C685.8 380.4 694.2 375.4 702.5 371.2 C710.8 367.1 719.2 363.5 727.5 360 C735.8 356.5 747.1 352 752.5 350 C757.9 348 756.6 349.3 760 347.8 C763.4 346.2 768.5 343 772.7 340.8 C776.9 338.6 781.2 336.3 785.4 334.4 C789.6 332.5 793.9 330.7 798.1 329.3 C802.3 327.9 806.6 326.7 810.8 325.9 C815 325.1 819.3 324.6 823.5 324.3 C827.7 324 832.4 324.1 836.2 324.3 C840 324.6 843.3 325.2 846.3 325.8 C849.2 326.4 851.3 327.3 853.9 328.1 C856.5 328.9 857.2 329 861.6 330.6 C866 332.2 876.9 336.8 880 338 L910 400 L910 625 L440 625 L440 580Z" fill="#f0d493" stroke="#7f7f7f"/>
<path d="M850 432 C841 435.6 811.2 447.8 796.2 453.8 C781.2 459.8 771.4 463.4 760 468 C748.6 472.6 734.7 478.7 728 481.5 C721.3 484.3 725.4 482.3 720 484.6 C714.6 486.9 701.6 492.5 695.4 495.4 C689.2 498.2 691.2 497.9 682.7 501.7 C674.2 505.5 653.1 514 644.6 518.2 C636.1 522.4 635.3 524.1 631.9 527.1 C628.5 530.1 622.6 527.2 624 536 C625.4 544.8 637.3 572.7 640 580 L780 581 L801.2 567.5 L830 549.5 L860 531Z" fill="#d8a74e" stroke="#b89a5c" stroke-width="0.6"/>
</g>
<g fill="#fff" stroke="#4a4a4a" stroke-width="0.9" stroke-linejoin="round">
<path d="M691.6 168.1 L687.1 166.2 L683.3 164.9 L678.9 166.2 L674.4 168.1 L670.6 169.4 L666.2 171.2 L664.3 173.8 L663.6 176.3 L661.7 173.2 L659.8 176.3 L658.6 173.2 L657.3 175.1 L655.4 180.8 L653.5 187.1 L652.2 193.5 L651.6 201.1 L652.9 208.7 L651.6 218.9 L651.2 225 L652 235 L653.8 245 L656.2 252.5 L660 258 L663.8 261.2 L670 258.8 L675 250 L677 240 L676.2 230 L673.2 221.4 L670 211.2 L671.9 202.4 L673.2 194.8 L678.2 189.7 L680.1 184.6 L681.4 192.2 L684 190.9 L683.3 183.3 L687.1 178.9 L689 177 L686.5 173.8 L690.9 170.6Z"/>
<path d="M258.5 249.5 L260.5 250.5 L262.5 254.4 L265.4 259.3 L269.3 256.4 L272.2 255.8 L274.8 258.3 L272.2 262.2 L273.6 266.1 L275.5 270 L267.3 273.4 L263.4 271 L261.1 263.2 L258 261.2 L259 255.4Z"/>
<path d="M816.2 550 L822.5 550 L823.8 556.2 L818.8 559.5 L815 555Z"/>
<path d="M862.4 347.2 L866.8 345.9 L871.9 350.4 L875.7 356.7 L876.3 362.4 L871.9 368.1 L866.8 370.6 L863 370 L861.8 366.8 L866.8 364.3 L870.6 359.2 L871.3 354.2 L868.1 350.4 L863 351Z"/>
<path d="M550 522.3 L554 521.5 L555.6 524 L553.5 528 L551 530 L550.5 526Z"/>
</g>
<g fill="none" stroke="#4d4d4d" stroke-width="1.25" stroke-linejoin="round" stroke-linecap="round">
<path d="M121.5 121 L125 121.5 L128.1 123.6 L131.2 125.5 L133.6 129.4 L135.4 131.9 L137 134.5 L139.6 136.3 L142.6 137.4 L145 139.5 L147.9 140.6 L150.9 141.2 L153.9 141.6 L157.1 141.3 L160 142.5 L163 142.3 L166 141.8 L169 141.5 L172.1 142.5 L175 141.5 L192.5 144.2 L217.5 148.8 M228 87.5 L217.5 148.8 M217.5 148.8 L219.2 152.1 L220.6 155.5 L222.5 158.8 L220.4 161.4 L219.3 164.7 L217.6 167.6 L215 170 L213.4 172.6 L211.8 175.2 L209.3 177.2 L207.7 179.8 L206.2 182.5 L208 185.1 L210 187.5 L208.7 190.4 L207.2 193.2 L206.2 196.2 L199.5 232 M88.8 207.5 L153.8 222.5 L199.5 232 L245 241.8 L290 248 M153.8 222.5 L148.8 240 L139.5 283.8 L209.2 385 M242.5 91.2 L238.8 110 L238.9 113.4 L241.4 116 L241.2 119.5 L242.5 122.5 L244.9 125.3 L245.5 129.2 L248.8 131.5 L250 135 L252 138.3 L254.8 141 L257.5 143.8 L255.7 146.4 L254.2 149.2 L253.8 152.5 L253.6 155.7 L252.8 158.8 L251.5 161.8 L251.2 165 L255.7 165.3 L260 166.2 L261.6 169.9 L262.9 173.6 L263.8 177.5 L264.9 180.3 L266.6 182.9 L268.8 185 L270.2 189 L272.5 192.5 L275.6 192 L278.8 193.2 L281.9 192.5 L285 192.5 L288.1 191.4 L291.4 191.2 L294.6 190.5 L297.8 190 M298.5 185.8 L293.7 230 L290 248 L288.8 269.6 M245 241.8 L227.5 346.2 M227.5 346.2 L223.8 362.5 L220 366.2 L216.2 363.8 L211.2 365 L209.2 385 M209.2 385 L209.3 388.8 L210 392.5 L211.2 396 L213.3 399.2 L215 402.5 L211.9 405 L208.8 407.5 L208.1 410.9 L206.3 414 L206.2 417.5 L204.9 420.6 L203.4 423.6 L201.2 426.2 L202.9 429.2 L203.8 432.5 L198.8 433.8 M227.5 346.2 L310 357.5 L410 368 L427.5 368 L487.5 370 L551.2 368.8 M288.8 269.6 L320 274.5 L399.2 281.2 L430.4 282.7 M320 274.5 L310 357.5 M310 357.5 L305 400 L295.8 477.5 M410 112.5 L406.8 176.2 L403.8 195.8 L402 238.8 L399.2 281.2 M298.5 185.8 L403.8 195.8 M406.8 176.2 L515 179.5 M402 238.8 L486.2 242 L489.1 243.6 L491.9 245.1 L495 246.2 L498.2 246.7 L501.2 245.1 L504.3 244.6 L507.5 245 L510.2 246.8 L513.4 247.2 L516.2 248.8 M506.2 115.5 L507.5 119 L508.1 122.6 L508 126.4 L508.8 130 L512.5 147.5 L514.5 165 L515.2 168.6 L515.4 172.2 L514.9 175.9 L515 179.5 L513.9 182.9 L512.5 186.2 L515.5 187.7 L518 190 L519.5 231.2 L518.7 235.7 L517.5 240 L517.9 243.9 L519.5 247.5 L516.2 248.8 M516.2 248.8 L520 252.5 L520.9 255.6 L522.1 258.7 L522.3 262 L523.8 265 L525 268 L525.6 271.3 L526.8 274.3 L527.5 277.5 L528.3 280.6 L528 283.9 L530 286.7 L530 290 L531.8 293.3 L533.8 296.5 L535 300 L537.3 302.3 L538.5 305.5 L541.2 307.5 L542.8 311.2 L543.8 315 L546.1 318.2 L548.8 321.2 L550 325 L551.2 368.8 L552.2 372.5 L552.5 376.3 L553.8 380 L555.8 402.5 L555 440 M430.4 282.7 L429.5 303.8 L427.5 368 M429.5 303.8 L475 305.5 L535 304.5 L538.5 305.3 L541.2 307.5 M410 368 L410.7 371.3 L410.5 374.7 L410 378 L406.5 437.5 L404.9 473.2 M410 378 L461.2 380 L460 420 L462.4 422 L465 423.8 L468.7 424.6 L472.5 425 L474.7 427.1 L477.7 428 L480 430 L483.3 430.7 L486.6 431.5 L490 431.2 L493.5 433.5 L497.5 434.5 L501 434.8 L504.1 436.4 L507.5 437 L510.9 436.5 L514.2 435.7 L517.5 435 L520.6 436.8 L524.2 437 L527.5 438 L530.8 437.1 L534.3 437.1 L537.5 435.5 L540.8 435.6 L544.1 434.8 L547.5 435 L550.2 436.4 L552.5 438.3 L555 440 M341.2 473.2 L340 469.1 L404.9 473.2 M555 440 L559 440.7 L563 441.2 L563.2 445.2 L563.9 449.2 L565 453 L565 470 L565.7 473.4 L567.8 476.1 L568 479.7 L570 482.5 L571.1 485.7 L572.1 488.9 L573.3 492 L575 495 L573.8 497.9 L574.4 501.1 L573.7 504 L572.6 506.9 L572.5 510 L571.7 513.1 L570.8 516.2 L570.9 519.4 L570 522.5 M565 453 L613.8 451.2 M519.5 231.2 L555.8 229.5 L598 228 M530 293.8 L555.8 291.2 L597.5 291.2 M552.5 379.5 L627.5 375.8 L627.6 378.9 L626.9 381.9 L626.2 385 L630.7 384.7 L635 385.5 M582.5 160.5 L578.8 163.8 L578.4 167.5 L577.3 171.2 L577.5 175 L574.9 178.7 L571.2 181.2 L572.4 184.1 L572.2 187.3 L573.8 190 L573.9 193.4 L575.2 196.6 L575 200 L578.3 202.9 L581.2 206.2 L583.3 208.8 L586.3 210.3 L588.8 212.5 L591.8 214 L593.3 217.2 L596.2 218.8 L597.5 221.7 L597.2 225 L598 228 L598.9 231.2 L600.2 234.3 L601.2 237.5 L602.7 240.5 L605.8 242.1 L607.5 245 L611.2 248 L613.6 251.6 L616.2 255 L617.3 258.3 L616.3 261.8 L617.5 265 L614.5 267.6 L610.8 269.1 L607.5 271.2 L606.1 274 L605.2 276.9 L605 280 L604.4 283.6 L601.9 286.4 L601.2 290 L597.5 291.2 L600 293.8 L599.4 298.1 L600 302.5 L602.3 305.7 L603.8 309.4 L606.2 312.5 L608.8 314.4 L611 316.5 L613.2 318.7 L615 321.2 L617.7 322.6 L619.7 325 L622.5 326.2 L622.1 330 L620.8 333.7 L621.2 337.5 L623.3 340.5 L626.6 342.2 L628.8 345 L631.3 347 L634.2 348.6 L636.2 351.2 L637.4 354.2 L638.6 357.2 L640 360 L642.5 363 L641.5 366.1 L641.5 369.5 L640 372.5 L636.2 376.2 L636.7 380.7 L637.5 385 L636.4 387.9 L633.7 389.7 L632.5 392.5 L631.3 396.3 L630 400 L629.4 403.7 L627.5 407 L625 409.3 L623.8 412.5 L621.2 415.9 L620 420 L618.6 423.5 L616 426.3 L615 430 L614.9 433.8 L614.1 437.5 L613.8 441.2 L614.5 444.6 L614.9 448 L616.2 451.2 L617.4 454.5 L617.9 457.8 L617.5 461.2 L618.7 464.3 L618.8 467.5 L617.4 470.5 L615.2 473.1 L614.1 476.3 L612.2 479.3 L610.9 482.7 L611.2 485.9 L610.1 489 L610.3 493.9 M610.3 493.9 L642.7 491.6 L643.5 495.4 L644 499.2 L646 502.1 L647.1 505.5 L648.4 509.4 M607 163 L610.9 164.8 L615 166.2 L618.5 166.3 L621.8 167.5 L625 168.8 L628.4 168.7 L631.6 170 L635 170 L638.2 171.9 L641.4 173.9 L645 175 L646.9 177.9 L647.5 181.2 L651.3 181.5 L655 182 M611.2 248 L653.8 245.5 M660 261.2 L663.8 312.5 L664.7 315.8 L665.3 319.2 L666.2 322.5 L664.4 325.6 L664.3 329.4 L662.5 332.5 L662.1 335.9 L661.6 339.4 L660 342.5 M642.5 363 L644.7 360 L647.5 357.5 L650.6 358.7 L653.8 360 L654.3 356.8 L656 354.1 L657.5 351.2 L657.6 348.1 L658.4 345.2 L660 342.5 L663.3 341.7 L666.6 341 L670 341.2 L673.2 341.6 L676.2 342.5 L679 340.7 L680.7 337.7 L683.8 336.2 L686.9 336.5 L690 336.2 L692.7 333.3 L696.2 331.2 L698 328.1 L699.1 324.7 L700 321.2 L703.1 319.1 L706.9 318.4 L710 316.2 L710.4 313.1 L710 310 L713.7 311 L716.7 313.2 L720 315 L723.3 316.2 L726.5 317.4 L730 317.5 L733.1 315.7 L736.5 314.6 L740 313.8 L742.2 316.2 L744.5 318.5 L747.5 320 L748.6 317.1 L750.3 314.6 L752.5 312.5 L754.1 309.5 L755 306.2 L757.3 302.9 L760 300 L762.3 296.8 L765 293.8 L767.6 291.7 L769.5 289 L771.2 286.2 L772.1 281.9 L772.5 277.5 L772.5 273 L771.2 268.8 M670 258.8 L702.5 255.5 L724.2 251.5 M702.5 255.5 L710 310 M768 241.2 L771.2 268.8 L776.2 286.8 M776.2 286.8 L851.4 270.9 M779.2 230 L779.8 235.5 L848 222.5 L850.5 226.2 L854.2 228.8 L856.1 231.2 L858 233.8 M858 233.8 L857.6 236.8 L856.3 239.6 L855.5 242.5 L856.6 246.2 L856.5 250 L858.5 252.5 L861.5 253.8 L863.6 256.3 L866 258.2 L862.6 261.3 L860.3 265.2 L857.8 266.9 L855.2 268.4 L851.4 270.9 M858 233.8 L874.2 238.8 M861.8 152.5 L862.2 155.7 L862.3 158.9 L863.7 161.9 L864.2 165 L864.7 168.4 L865.2 171.8 L866.8 175 L868 178.8 L869.2 182.5 L873 198.8 L873.1 201.8 L873.6 204.8 L873.9 207.9 L875.8 210.6 L875.5 213.8 L878 233.8 M887.5 146.2 L884.2 162.5 L883.3 165.4 L884.4 168.6 L883.4 171.5 L883.3 174.5 L883 177.5 L885 195 M893 138.8 L900.5 157.5 L906.8 173.8 L908.6 176.4 L908.5 179.9 L910.5 182.5 M873 198.8 L876.2 198.6 L879 197 L882 195.9 L885 195 L904.2 191.2 L906.8 188.8 L909.2 186.2 M875.5 213.8 L901.8 207.5 L906.8 207 L908.7 210.8 L909.2 215 M901.8 207.5 L901.9 210.6 L902.9 213.7 L902.4 216.9 L903 220 M747.5 320 L749.6 322.7 L750.2 326.2 L752.5 328.8 L754.4 332.2 L758.1 334.1 L760 337.5 L762.8 340.5 L766.2 342.5 M766.2 342.5 L746.2 356.5 M638.8 373.8 L662 372 L664.2 369 L720 363.2 L746.2 356.5 L768 356 L795.8 352 L861.6 337.6 M766.3 342.7 L771.4 340.8 L775.5 339.9 L779 337.6 L781.9 335.4 L785.8 334.9 L788.6 332.5 L789.2 326.8 L790.4 322.8 L792.4 319.2 L793.2 315.7 L794.7 312.4 L794.9 308.7 L798.1 309 L801.3 309.7 L802.1 306.7 L802.4 303.6 L803.8 300.8 L807.6 301.4 L809.6 297.8 L810.1 293.8 L812 290.1 L812.3 285.9 L815.9 287.1 L819.2 288.7 L822.2 290.9 M793.3 284.9 L794 289.3 L794.5 293.8 L796.6 291 L799.7 289.2 L801.5 286.1 L803.8 283.6 L808.9 284.9 L812 281.1 L815.1 280.1 L818.4 280.5 L819.9 283.9 L822.2 286.8 L825.2 288.1 L827.3 290.6 L831.1 290.4 L834.9 291.3 L836.8 294.4 L833.6 298.2 M852 271.6 L857.8 295 L861.3 294.6 L864.9 294.4 L868.5 293.8 M860.3 309.7 L864.1 308.3 L867.9 307.1 M768.8 356.2 L767.5 360.3 L765 363.8 L761.7 365.9 L758.6 368.3 L755 370 L753.4 372.6 L752 375.2 L750 377.5 L746.3 379.1 L743.3 381.6 L740 383.8 L736.4 385.5 L732.9 387.3 L730 390 L729.5 395.5 M627.5 407 L665 404.5 L708.8 400 L729.5 395.5 L747.5 393.8 M747.5 393.8 L750.8 392.6 L754.1 391.3 L757.1 389.4 L760 387.5 L784.2 384.2 L786.9 387.6 L790.5 390 L810.5 387.5 L831.8 402.5 L835.8 401.6 L840 402 M747.5 394.5 L748.9 397.3 L751.4 399.5 L752.5 402.5 L755.4 404.6 L757.4 407.6 L760 410 L762.7 412.3 L764.5 415.5 L767.2 417.8 L770 420 L782.5 431.2 L783.9 434.1 L786.4 436.2 L787.7 439.1 L790 441.2 L792 444.2 L793.7 447.4 L796.2 450 M665 404.5 L665 462.5 L669.3 502.4 M708.8 400 L720 432.5 L726.2 453.8 L726 457.5 L724.9 461.2 L724.5 465 L728 481.2 M687.1 498.6 L687.8 495.4 L684.6 492.9 L682.7 487.8 L728 482 M728 482 L730.5 484.5 L732.5 487.5 L783.6 481.5"/>
</g>
<path d="M150.2 69.2 L185 77.5 L220 85 L242.5 91.2 L300 100 L330 105 L370 109 L410 112.5 L460 115 L507.5 115.5 L535 115 L535.3 111.3 L535.5 107.5 L539.5 107.5 L540.3 110.3 L541.2 113 L541.2 116 L542 118.8 L545.3 119.4 L548.6 120.4 L551.8 121.5 L555 122.5 L558.3 122.2 L561.7 122.1 L565 121.2 L568.3 122.9 L571.5 125 L575 126.2 L578.2 127.9 L581.7 128.5 L585 130 L588 129 L591.2 128.4 L594.4 128.4 L597.5 127.5 L615 131.2 L605 142.5" fill="none" stroke="#4a4a4a" stroke-width="1.2" stroke-linejoin="round" stroke-linecap="round"/>
<path d="M605 142.5 L592.5 152.5 L590.3 154.9 L587.7 156.8 L585.1 158.6 L582.5 160.5 L586.3 159.4 L590 158 L593.1 156.8 L596.2 156 L599.5 155.5 L600.5 160.5 L603.5 161.5 L606.2 163 L609.5 160.7 L612.5 158 L615.7 156.5 L619.2 155.9 L622.5 154.5 L625.3 152.9 L628 151 L631.3 147.1 L634.2 144.6 L637.6 142.7 L640.8 141.8 L644 140.8 L639.5 144 L637.6 146.5 L635.7 149 L635.5 152.2 L635.1 155.4 L637.6 152.8 L640.7 153.7 L644 153.5 L646.4 155.1 L648.5 156.9 L650.3 159.2 L653.7 159.8 L657.1 159.5 L660.5 159.8 L662.8 157.4 L665.5 155.4 L668.7 154.3 L671.9 153.5 L675 152.7 L678.2 152.2 L681.5 151.7 L684.6 150.3 L685.9 155.4 L689 154.8 L692.2 154.8 L696 153.5 L697.8 156.2 L699.2 159.2 L702.4 161.7 L706.2 161.1 L708.7 163 L706.2 164.5 L701.1 164 L696 164.9 L692.2 165.5 L691.6 168.1 L690.9 170.6 L694.1 171.6 L697.3 172.5 L701.1 173.8 L704.9 175.1 L707.9 176.8 L711.2 177.6 L714.4 180.8 L713.8 185.9 L716.3 190.9 L716 194.1 L716.3 197.3 L715.2 199.9 L713.8 202.4 L710 206.2 L710 211.2 L713.8 213.8 L715.5 211.1 L717.6 208.7 L719.8 206.4 L721.4 203.6 L725.2 202.4 L726.4 205.2 L728.4 207.4 L729.9 210.2 L730.3 213.4 L731.6 216.3 L732.8 220.2 L734.7 223.9 L735 228 L733.8 232.5 L730 236.2 L732.5 240.5 L730.5 242.7 L728.8 245 L726.2 250 L725.5 252.8 L724.2 255.5 L727.7 256.3 L731.2 256.6 L735.2 256.8 L739.1 256.6 L741.7 255.1 L744.6 254.4 L747.2 252.8 L750 251.9 L752.1 249.9 L754.6 248.6 L757 247 L759.4 245.6 L762.5 243.7 L765.7 242.1 L768.8 240.2 L771.3 238.7 L773.7 237 L776.1 235.3 L778.1 233.1 L780.8 230.8 L783 228.1 L785.2 225.3 L786.2 222.6 L787.5 220 L789.2 215 L787.1 212.7 L785.5 210 L788 206.2 L805.5 203.8 L808.9 203 L812.2 202.1 L815.5 201.2 L818.7 199.5 L821.8 197.5 L824 194.7 L826.8 192.5 L825.8 188.8 L825.5 185 L821.8 181.2 L824.2 178.6 L826 175.5 L828 172.5 L829.7 170.1 L830.8 167.3 L832.6 164.9 L834.2 162.5 L837 160.6 L839.2 158 L861.8 152.5" fill="none" stroke="#4a4a4a" stroke-width="0.9" stroke-linejoin="round" stroke-linecap="round"/>
<path d="M861.8 152.5 L887.5 146.2 L888 143 L889.2 140 L893 138.8 L896.8 135 L896.9 131.6 L897.4 128.3 L898 125 L898.8 121.7 L898.8 118.3 L899.2 115 L899.8 111.9 L899.5 108.7 L900.2 105.6 L900.5 102.5 L904.2 87.5 L908 86.2 L909.2 90 L912.3 88.3 L915.1 86.2 L918 84.2 L920.8 85.3 L923.8 85.9 L926.8 86.2 L927.8 89 L929.1 91.7 L929.3 94.8 L930.5 97.5 L936 115 L939 115.9 L941.8 117.5 L944 120.4 L945.5 123.8 L948.5 125.2 L951.8 126.2 L954.2 130 L952.1 132.3 L950.5 135" fill="none" stroke="#4a4a4a" stroke-width="1.2" stroke-linejoin="round" stroke-linecap="round"/>
<path d="M950.5 135 L946.8 138.8 L944.8 141.2 L943 143.8 L940.4 145.5 L938 147.5 L933 145 L930.1 147.1 L928 150 L927.1 153.3 L925.5 156.2 L922.3 157.3 L919.2 158.8 L916.8 161.6 L915.5 165 L913 170 L911.7 173.6 L911.8 177.5 L910 182.5 L910.1 183.7 L912 186.9 L912.9 190.5 L911.5 193.5 L910.6 196.7 L914.6 199.6 L918 203.6 L920.3 206.4 L924.8 206.9 L928 205.8 L929 203.5 L927 201.5 L924.3 200.5 L924.3 199.3 L928 199.8 L930.8 203 L931.2 207 L930.3 209.3 L928.3 209.3 L923.7 210.6 L920.3 212.7 L918 215.5 L914.6 215.5 L911.2 217.2 L908.9 218.9 L905.5 221.8 L902.6 222.7 L899.8 224 L896.9 224.8 L894.1 225.7 L891 226.2 L888.4 228 L885.6 229.7 L882.8 231.4 L880.5 233.2 L878.2 234.8 L875.9 238.3 L874.2 242 L872.3 244.7 L871.8 248 L875.5 250 L876.2 253.9 L877.4 257.6 L877.5 260.8 L877 264 L876.2 267.2 L874.9 270.3 L873.8 273.2 L872.7 276 L870.4 281.1 L868.2 284.5 L867.3 280.5 L863.5 278.9 L860.3 278.2 L857.1 274.1 L855.5 269 L856.5 274.1 L858.7 276.6 L859.7 279.8 L861.8 282.2 L864.1 284.3 L867.3 288.7 L869.2 293.2 L868.9 296.4 L869.4 299.5 L869.1 302.7 L868.5 305.9 L866.9 309.6 L866.4 313.5 L864.6 316.4 L864.1 319.8 L862.9 323.2 L861.9 326.6 L860.3 322.4 L860.5 319.4 L859.5 316.5 L860 313.5 L858.8 309.8 L859 305.9 L858.4 300.8 L858.5 297.4 L857.1 294.4 L855.8 291.3 L855.2 288.1 L854.1 285 L853.9 281.7 L853.8 278.1 L852.4 274.8 L851.7 271.8 L848.9 275.4 L846.1 277.3 L843.8 279.8 L840.9 284.5 L842.3 287.4 L842.5 290.6 L839.3 293.8 L837 296.2 L834.3 298.2 L834.1 301.2 L833 304 L837.4 305.2 L840.7 305.5 L843.8 306.5 L847 307 L849.5 309 L852.7 313.5 L853.6 316.7 L854.6 319.8 L855.2 323.6 L851.9 322.6 L848.9 321.1 L845.7 320.8 L842.5 320.2 L845.4 321.9 L847.6 324.3 L850.5 325.3 L852.7 327.4 L854.6 330.6 L858.1 329.9 L861.6 330.6 L861.9 333.5 L863 336.2 L864.2 338.8 L865.7 341.6 L867.9 344.1 L869.4 346.9 L870.5 350 L873.1 352.1 L874.9 354.8 L876.8 357.5 L877.2 361.2 L875.5 363.8 L873.5 366.4 L870.7 368.2 L868 370 L866.6 374 L864.2 377.5 L861.5 378.8 L858.3 378.9 L855.5 380 L853 381.7 L850.5 383.4 L848 385 L846.5 388 L844.6 390.8 L843 393.8 L841.7 397.7 L841.2 401.8 L838.6 402.7 L835.9 403.8 L833 403.8 L830.9 405.9 L829 408.1 L826.8 410 L824.7 412.3 L823.9 415.3 L821.8 417.5 L820 420.2 L820 423.6 L818 426.2 L814.8 428.7 L811.8 431.2 L808.9 434.2 L806 437 L803 440 L802 442.7 L799.9 444.8 L798.9 447.4 L797.9 450.1 L797.8 453.2 L796.6 456 L796 459 L795.5 462.1 L796.1 465.4 L795.8 468.5 L794.8 471.6 L794.5 475 L794.2 478.3 L794.4 481.7 L795.6 484.6 L796.8 487.6 L797.9 490.6 L799.6 493.5 L801.6 496.3 L803 499.4 L804.1 502.7 L805.7 505.7 L808 508.3 L809.7 510.8 L812 512.9 L813.1 515.9 L814.6 518.4 L815.5 521.4 L817.5 523.6 L818.7 526.4 L820.6 528.6 L821.9 531.2 L822.5 534.1 L824 536.5 L825.6 538.9 L827.8 541.5 L829.2 544.6 L831.2 547.3 L832 550.2 L832.8 553.1 L834.7 555.6 L834.5 558.5 L835.5 561.2 L835.3 564.1 L836.1 566.8 L835.4 570.5 L835.5 574.2 L836.1 577.9 L835 580.6 L834.6 583.4 L834 586.2 L831.9 588.3 L829.8 590.4 L826.9 590.6 L824.2 591.8 L821.5 590.2 L818.7 589 L818.3 586.1 L817.3 583.4 L814.2 581.7 L811.7 579.3 L808.8 579.2 L806.2 577.9 L804.1 574.6 L802.7 570.9 L801.3 568.1 L798.1 568 L795 568.1 L793.7 564.6 L792.2 561.2 L789.8 559.1 L787.7 556.7 L786.5 553.5 L783.9 551.5 L780.4 547.3 L780.4 544.3 L782.5 541.9 L782.5 538.9 L780.7 536.5 L778.3 534.8 L778.4 531.5 L779.1 528.3 L778.3 525 L777.2 521.4 L775.6 518.1 L772.4 517.2 L770 515 L768.7 512.4 L766.1 510.7 L764.9 508 L762.5 506.2 L760.3 503.8 L757.1 502.5 L755 500 L751.1 500.1 L747.5 498.8 L744.9 501.8 L741.2 503.8 L738.8 505.5 L736.8 507.6 L735 510 L731.2 510.4 L727.5 510 L725.1 507.2 L723.8 503.8 L720 503 L716.9 500.5 L713.7 499.1 L710.6 497.3 L707.5 496.5 L704.2 496.7 L701 496.6 L697.9 497.3 L692.8 498.6 L687.8 499.8 L683.9 501.7 L680.1 503.6 L678.2 502.4 L678.5 498.8 L677.6 495.4 L675.1 495.4 L674 499.1 L674.4 503 L671.2 503.6 L666.2 504.3 L661.1 504.9 L656 504.3 L650.9 506.2 L648.4 509.4 L649.7 509.4 L652.2 508.1 L653.1 510.8 L654.8 513.2 L653.9 516.3 L654.1 519.5 L650.9 523.3 L652.2 527.1 L653.9 530.7 L654.1 534.8 L656.3 532.8 L659.2 532.2 L660.5 528.4 L656 525.9 L650.9 525.9 L647.6 526.3 L644.6 527.8 L642 529.2 L639.5 530.9 L636.5 532.5 L633.2 533.5 L630 534.1 L626.8 533.5 L624.7 531.4 L623 529 L620.3 528 L617.9 526.5 L613.5 524 L612.2 520.8 L609.3 519.9 L606.5 518.9 L602.7 520.8 L600.2 525.2 L596.8 524.9 L593.3 524.9 L590 524 L586.9 522.3 L583.7 522.6 L580.6 522.1 L577.5 521.2 L573.6 522 L569.7 521.6 L566.8 523.7 L563.4 524.7 L560.9 526.4 L558.5 528.3 L555.6 529.4 L552.2 531.7 L549.4 534.8 L546.2 537.5 L543.1 540.3 L540 541.9 L536.8 543.2 L533.8 545 L530.8 547.2 L527.9 549.3 L524.4 550.5 L522.2 553.1 L519.4 554.8 L516.6 556.7 L514.7 559 L512.7 561.2 L510.3 563 L508.6 566.7 L506.4 570 L505.1 573.8 L504.8 577.8 L506.4 581.5 L506.4 585.6 L507.3 588.7 L508.1 591.8 L508.8 595 L509.3 597.8 L508.9 600.8 L509.5 603.6 L505 604.7" fill="none" stroke="#4a4a4a" stroke-width="1.35" stroke-linejoin="round" stroke-linecap="round"/>
<path d="M505 604.7 L501.6 603.3 L498.2 601.8 L494.7 600.6 L491.9 598.9 L488.9 597.7 L485.6 597.2 L483 595.4 L479.9 595.2 L477.4 593 L474.3 592.6 L472.6 590.1 L470.9 587.5 L469.7 584.7 L467.9 581.9 L467.5 578.6 L466.3 575.6 L464.6 572.8 L463.7 569.7 L462.9 566.5 L461.1 563.8 L459.3 561.1 L457.3 558.5 L454.9 556.2 L452.8 554 L451.4 551.5 L450.2 548.8 L449.2 546 L447.8 542.6 L446.8 539 L444.7 535.8 L442.8 533.2 L440.7 530.7 L437.9 529 L436.1 526.6 L434.3 524.2 L432.2 522.1 L428.1 521.9 L424.2 521 L421.1 521 L418.1 520.8 L415.1 519.9 L412.4 521 L409.7 522 L407.1 523.3 L405.8 525.9 L405 528.6 L403.7 531.2 L401.6 533.9 L399.2 536.5 L395.7 536 L392.4 534.6 L389.7 532.3 L386.4 530.7 L383.3 529 L381.6 526.7 L379.7 524.6 L377 523.3 L375.3 521 L373.5 518.2 L372.7 515.1 L371.9 511.9 L371 508.2 L369.3 504.9 L367.3 501.7 L364.9 499.8 L363.1 497.3 L360.3 495.9 L358.2 493.7 L356.4 490.7 L353.1 489.1 L351.7 485.8 L349.1 483.5 L347.8 480.4 L345 478.4 L343.1 475.8 L341.2 473.2 L311.6 470.9" fill="none" stroke="#4a4a4a" stroke-width="1.35" stroke-linejoin="round" stroke-linecap="round"/>
<path d="M311.6 470.9 L311 474.8 L310.4 478.8 L295.8 477.5 L258.8 473.2 L197.5 437.5 L198.8 433.8 L157.5 429.5 L156.2 427.5" fill="none" stroke="#4a4a4a" stroke-width="1.2" stroke-linejoin="round" stroke-linecap="round"/>
<path d="M156.2 427.5 L155.4 424.1 L155.8 420.5 L155.1 417.1 L153.8 413.8 L152.7 410.5 L150.8 407.7 L148.8 405 L146 402 L142.5 400 L140.5 397.2 L140 393.8 L136.3 391.7 L132.5 390 L130.1 388.2 L128.6 385.6 L126.2 383.8 L123.3 382.2 L120.5 380.3 L117.5 378.8 L114.7 377.7 L111.9 376.8 L109.2 375.4 L106.2 375 L107.6 372 L107.3 368.7 L108.6 365.7 L108.8 362.5 L107.4 358.5 L105 355 L103.6 351.9 L101.9 349 L101.2 345.6 L100 342.5 L99.1 339.2 L97.5 336.2 L95.8 333.3 L95 330 L96.2 326.7 L96.4 323.3 L97.5 320 L96.5 317.2 L93.9 315.3 L92.9 312.4 L91.2 310 L91.4 306.9 L92.6 303.8 L91.6 300.6 L92.5 297.5 L91.4 293.9 L89 290.9 L87.5 287.5 L85.4 283.8 L83.8 280 L82.4 277 L81.9 273.8 L81.6 270.4 L80 267.5 L81.2 264.7 L81.5 261.8 L81.4 258.8 L81.2 255.8 L82.1 252.9 L82.5 250 L81 247.4 L78.9 245.2 L77.5 242.5 L78.9 238.9 L78.8 235 L80.8 232 L83.8 230 L84.2 226.6 L85 223.2 L86.2 220 L86.4 217.1 L86.8 214.2 L87.7 211.5 L88.8 208.8 L88.9 205.6 L89.5 202.5 L90.5 199.2 L90.2 195.8 L90.5 192.5 L92.3 188.8 L93.8 185 L95.4 181.7 L97.5 178.8 L98.3 175.6 L100.1 173 L101.2 170 L103.2 166.8 L104 163 L106.2 160 L107.7 156.8 L108.3 153.2 L110 150 L111.5 146.8 L112.3 143.3 L113.8 140 L114.9 136 L117 132.5 L117.3 128.6 L118.8 125 L122.5 121.2 L118 120 L119 116.7 L119.1 113.3 L119.5 110 L119.7 106.7 L121.2 103.8 L121.6 100.9 L120.3 98.2 L120 95.4 L120 92.5 L118.8 89.3 L118.8 85.9 L118.8 82.5 L119.3 79.6 L120.2 76.8 L120 73.8 L123 75.7 L125.7 78.2 L128.5 80.4 L131.5 81 L133.9 83 L136.9 83.6 L139.5 85.1 L141.4 83.5 L141.8 86.6 L146 87.4 L150 84 L150.4 80 L151.2 76 L150.3 72.7 L150.2 69.2 L150.2 69.2" fill="none" stroke="#4a4a4a" stroke-width="1.35" stroke-linejoin="round" stroke-linecap="round"/>
<path d="M871.4 248.5 L872.7 245.7 L874.1 243 L875.9 240.5 L878.1 239.1 L880.3 237.5 L882.8 236.5 L886 234.5 L889.6 233.2 L892.4 231.7 L895.3 230.3 L898.7 227.4 L901.8 227.9 L904.9 227.6 L902.7 229.3 L901 231.4 L898 233 L895.3 235.1 L893.1 236.7 L890.7 237.7 L888.4 239.1 L886.2 240.6 L884 242 L881.6 243 L878.4 245.1 L874.8 246.4Z" fill="none" stroke="#4a4a4a" stroke-width="1.25" stroke-linejoin="round"/>
<g fill="none" stroke="#505050" stroke-width="0.8" stroke-linejoin="round">
<path d="M616 131.4 L617.8 128.5 L620.1 126 L620.3 123.1 L621.5 120.5 L624.3 120 L627 119.1 L628.4 116.4 L629.7 113.7 L631.9 111.4 L633.8 108.9 L636.3 109.3 L638.7 109.9 L641.1 111 L643.6 111.4 L646.1 111.6 L649.1 111 L652.2 110.7 L655.3 110.1 L658.4 110.2 L660 112.9 L662.5 115 L663.9 117.8 L665.5 120.4 L667.1 123.1 L669.3 125.3 L672 125.7 L674.8 125.1 L677.5 125.7 L680.3 124.9 L683 125.3 L683 128.4 L683.7 131.4 L685.6 133.5 L686.7 136.1 L688.5 138.3 L689.4 141.6 L689.2 145.1 L692.6 146.5 L692.2 149.9 L691.9 153.3 L696.7 154"/>
<path d="M697.3 154.8 L699.2 156.7 L702.7 156.5 L706.2 157.3 L708.7 156.8 L711.3 157.4 L713.8 156.7 L716.4 157.5 L718.9 156.9 L721.4 157.2 L724 156.9 L726.5 156.5 L729 156.4 L731.5 156.9 L734.1 156.3 L736.6 156.7 L739.1 157 L741.7 156.9 L744.2 157.3 L747.1 157.3 L750 157.3 L751.5 159.9 L753.8 161.7 L755.7 164.1 L757 166.8 L760 168.1 L761.5 170.4 L763.3 172.6 L765.6 174.2 L766.5 177 L768.8 178.8 L766.2 178.2 L763.8 177.5 L762.5 180 L761.5 182.7 L760 185.2 L755.7 183.3 L751.9 185.2 L749.3 182 L750 178.9 L745.5 177.6 L744.2 173.2 L741.1 173.4 L737.9 173.8 L739.4 176.4 L741.7 178.2 L743.7 180.6 L745.5 183.3 L745.6 186.5 L746.2 189.7 L744.6 192.1 L743.6 194.8 L742.2 197.8 L741.7 201.1 L742.1 204.3 L743 207.4 L743.7 209.9 L744.2 212.5 L742.8 215.8 L741.1 218.9 L738.6 220.9 L736 222.7 L735.6 226 L734.5 229.2 L734.5 232.5"/>
<path d="M726.5 249 L727.2 246.5 L728.1 244.1 L731.2 243.6 L734.4 243.1 L737.5 242.5 L739.5 240.7 L741.5 239 L743.5 237.3 L745.2 235.1 L746.9 233.1 L749.4 231.9 L751.6 230.1 L753.9 228.4 L756.2 226.9 L759 227.1 L761.8 227.1 L764.5 226.4 L767.2 226.1 L771.9 225.3 L767.2 223.8 L770.3 220.6 L773.1 220 L775.6 218.5 L778.6 218.7 L781.2 217.5 L784.4 217.3 L787.5 216.7"/>
<path d="M627.6 118.6 L629.3 116.4 L630.6 117.4 L628.9 119.4 L627.6 118.6"/>
<path d="M661.1 182 L659.2 185.9 L658.2 188.4 L657.3 190.9 L657.1 193.6 L656 196"/>
<path d="M788 206.2 L785.4 206.8 L783 207.9 L780.3 208.1 L778 209.5 L774.2 208.1 L774.9 205.3 L775.5 202.5 L778.1 198.8 L780.7 198.1 L782.6 196 L785.1 195.3 L787.5 194.1 L789.7 192.7 L792 191.6 L794.4 190.7 L796.9 190.2 L799.9 188.8 L803.1 187.8 L807.8 187 L809.9 184.8 L812.5 183.1 L815.3 181.9 L818 180.5 L820.8 178.5 L823.5 176.5 L823 179 L821.8 181.2"/>
<path d="M713.2 164 L718.9 162.4 L724 161.7 L730.3 159.8 L736 159.2 L737.9 163 L734.7 168.7 L730.3 167.5 L725.2 166.2 L718.9 165.3 L713.8 164.9Z"/>
<path d="M622.2 133.5 L625.5 129.8 L630.4 126.7 L627.5 130.6 L623.5 133.6Z" fill="#94cd7e"/>
<ellipse cx="632.6" cy="114.2" rx="1.7" ry="1.1" transform="rotate(-50 632.6 114.2)"/>
</g>
<g fill="none" stroke="#4a4a4a" stroke-linejoin="round" stroke-linecap="round">
<path d="M141.8 72.9 L147.3 71.8 L150.1 73.3 L149.7 68.6 L151.2 68.6 L152.8 74.9 L153.6 78.8 L151.2 81.9 L152.8 85.9 L152 89 L154 91 L151.2 93.7 L149.7 97.6 L150.1 100.8 L147.3 104.7 L144.2 106.2 L140.3 108.2 L136.3 107.8 L135.2 105.5 L136.3 102.7 L136 100 L138.7 97.6 L141.8 95.3 L142.6 96.8 L141.1 99.2 L143.4 100.8 L145.8 99.2 L146.5 96 L147.3 92.9 L145.8 90.6 L146.1 87.4 L142.6 87.4 L141.4 85.9 L145.8 83.5 L147.3 80.8 L143.4 79.6 L142.2 75.7Z" fill="#4a4a4a" stroke-width="0.8"/>
<path d="M146.5 66.5 L146.9 67.2" stroke-width="1.6"/>
<path d="M120.5 104 L122.5 106 L121 108.5 L123.5 110.5 L120.5 112.5 L122 115" stroke-width="1.8"/>
<path d="M87.7 287.7 L86.4 292.75 M82 296.5 L84.5 299 M95.3 292.75 L93.4 299 L95.3 304 L98.4 308.5 M97.2 294 L95.9 300.3 L99 308" stroke-width="1.2"/>
<path d="M96.5 292.7 L98 291 L99.5 294.5 L101.5 293 L103.3 296.3 L105.5 294.8 L107.2 298 L109.5 296.8 L111.7 299.7" stroke-width="1"/>
<path d="M954.5 130.9 L952.2 130.6 L953.4 132.9 L950.9 132.4 L951.9 134.7 L949.3 133.8 L950 136 L947.7 135.2 L948.5 137.5 L946.3 136.8 L947 139 L945.1 138.8 L946.1 140.9 L943.1 139.9 L944.6 142.3 L942.5 142 L943.6 144.6 L940.8 142.5 L941.9 145.8 L939.5 144.3 L940.5 147.4 L938.1 145.9 L937.5 148.7 L937.6 145.7 L935.8 147.1 L935.5 145.1 L933.8 146.5 L931.5 143.9 L932.5 146.6 L930.1 145.6 L931.2 148.5 L928.6 147.3 L929.4 149.9 L926.8 149.5 L927.9 151.2 L925.8 151.5 L927.7 153.5 L924.7 153.5 L926.5 155.4 L924.8 154.5 L924.8 157.4 L922.8 155.6 L922.8 158.6 L920.6 156 L920.5 158.9 L917.6 157.8 L919.5 160.1 L916.2 159.4 L918.6 162 L915.8 161.5 L917.8 163.9 L914.9 163.4 L916.2 165.3 L913.1 165.1 L914.9 167.2 L912.4 167.2 L913.8 169.1 L911 169.6 L914 171.2 L910.8 171.7 L913.7 173.2 L910.7 173.7 L913.2 175.2 L910 175.7 L911.8 177" stroke-width="1.15"/>
<path d="M910.7 196.5 L911.4 198.5 L913.4 198.5 L914 200.2 L915.9 200.8 L916.4 202.7 L918.5 203.2 L918.7 205.4 L920.3 206.4" stroke-width="0.9"/>
<path d="M909 209.5 L913.3 212 L913.5 215.3 L910.8 217 Z" fill="#4a4a4a" stroke-width="0.6"/>
<path d="M896 230.5 L900 228.6 L904.5 227.8 L901.5 230.5 L897.5 233 Z" fill="#4a4a4a" stroke-width="0.6"/>
<path d="M848.9 273.4 L850.1 276.1 L846.9 274.7 L848.4 277.7 L845.7 276.7 L847 279.5 L844.4 278.6 L845.5 280.8 L842.5 280.2 L844.6 282.8 L841.9 282.4 L842.9 284.4 L840.6 284.6 L843.4 285 L840.4 286.8 L843 287.3 L840.6 288.9 L844.5 289 L841.8 289.9 L843.1 292.8 L840.6 291.9 L841 293.9 L838.7 293.1 L839.3 295.5 L837.3 294.9 L837.8 297.1 L835.8 296.5 L836.3 298.8 L833.5 298.1 L836.3 299.7 L833.1 300.4 L835.8 301.9 L832.8 302.7 L834.1 302.1 L834.2 305.1 L835.9 303.1 L836 306.3 L837.9 302.9 L838.2 306.6 L839.9 303.6 L840.5 306.5 L842 304.6 L842.6 306.9 L844.3 305.3 L844.3 308 L846.4 305.8 L846.1 308.9 L848.3 306.6 L848 309.9 L851.3 307.7 L849.9 310.1 L852 310 L850.3 312.5 L853.5 311.6 L851.3 313.9 L854.6 314.1 L853 315.7 L855.5 316.1 L852.8 318 L855.7 318.3 L854.2 319.9 L856.4 320.8 L853.6 322.6 L855.2 323.6" stroke-width="1.15"/>
<path d="M855.2 323.5 L852.9 324.5 L852.3 321.9 L850 322.7 L848.9 320.9 L847.1 322 L845.8 320.3 L843.9 321.9 L842 320.8 L844.6 320.2 L844.7 322.7 L847.2 322.2 L847.4 324.6 L849.9 324.3 L850.8 326.6 L854 326.6 L853.7 329.3 L855 331" stroke-width="1"/>
<path d="M850.7 273.8 L852.5 275.8 L849.6 276.4 L851.4 278.4 L849.2 279.2 L850.9 281.2 L848.2 281.9 L850.1 283.4 L848 284.4 L849.7 285.9 L847.9 286.9 L849.7 288.5 L846.8 289.4 L849.4 291 L846.8 292.3 L849.3 292.6 L847.9 294.5 L850.1 294.9 L848.6 296.9 L851.2 297.1 L850 299 L852.7 299.1 L850.9 301.2 L853.7 301.7 L851.3 303.8 L854.2 304.4 L852.1 306.4 L854.4 307.1 L852.7 309 L855.3 309.9 L853.5 311.3 L855.4 312.3 L854.1 313.7 L855.9 314.7 L854.4 316.1 L856.2 317.2 L853.9 318.7 L857.1 319.6 L855.2 321" stroke-width="1.1"/>
<path d="M834.2 301.1 L835 303.2 L836.6 301.7 L837.4 303.9 L838.9 302.7 L839.4 304.9 L841.4 303.6 L841.9 305.6 L843.7 304.7 L844.2 306.9 L846.4 305.2 L846.8 307.5 L848.6 307 L849.2 308.9 L851 308.5" stroke-width="1.1"/>
<path d="M841.9 284.8 L841.7 286.7 L843.8 287.1 L843.3 289.3 L845.2 289.9 L844.9 291.8 L846.8 292.3 L846.7 294 L848.4 294.7 L849 296" stroke-width="1"/>
<path d="M842.7 320.1 L843.5 322 L845.4 321.1 L846.2 323.2 L848.1 322.4 L848.7 324.3 L850.9 323.4 L851.4 325.6 L853.6 324.7 L854.6 326" stroke-width="1"/>
<path d="M852.1 275.1 L854.2 275.8 L852.2 277.4 L854.8 278 L853.1 279.5 L854.8 280.4 L853.6 281.8 L855.2 282.8 L853.6 284.4 L855.7 285.3 L854.3 287 L856.2 287.8 L855.1 289.5 L857.2 290.2 L855.4 292.2 L858.1 292.7 L856.9 294.4 L858.5 295.5 L857.3 297 L859.5 297.9 L857.2 299.7 L860 300.6 L857.6 302.2 L860.3 303.2 L857.8 304.7 L860.6 305.7 L858.7 307.2 L861 308.2 L858.9 309.8 L861.2 310.8 L859.1 312.3 L861.3 313.4 L859.5 314.6 L861.4 315.7 L859.7 316.9 L861.3 317.9 L859.4 319.1 L862 320.1 L859.4 321.3 L860.5 322.4" stroke-width="1.1"/>
<path d="M869.4 293.5 L868.3 295.5 L869.8 297.5 L868.3 299.4 L869.4 301.7 L868.1 303.7 L869 306 L867.1 307.6 L867.7 309.8 L866 311.4 L866.7 313.6 L864.7 315.3 L865 317.8 L863.5 319.6 L864 322.1 L862 323.7 L862 326" stroke-width="0.9"/>
<path d="M849.5 343.9 L849.8 345.9 L851.5 345.1 L851.8 347 L853.6 345.9 L853.5 347.6 L855.5 347.9 L854.4 350 L856.8 350.1 L857.4 352.9 L857.8 350.7 L859.7 351.2 L859.9 349.4 L862 349.1 L861.4 347.3 L863.2 346.9 L862.3 345.7 L863.6 343.6 L861.8 343.4" stroke-width="1.3"/>
<path d="M849.8 362.6 L850.5 364.7 L852.2 362.8 L852.9 364.7 L854.4 363.3 L856.1 365.3 L856.2 363.5 L858.1 364.3 L858 362.1 L858.5 362.5 L860.4 362.3 L860.1 364.3 L861.9 364.5 L860.2 363.9 L860.3 366.2 L858.3 365.2 L858 366.8" stroke-width="1.3"/>
<path d="M851.2 371.2 L851.9 373 L853.4 372.1 L854.2 373.9 L855.6 372.7 L857.3 374.4 L857.4 372 L859.1 372.9 L859.5 371 L861.3 372.1 L862.4 370.3 L861.1 372.5 L863.9 372.7 L863.5 373.4 L862.7 375.4 L861.1 373.6 L860.5 376 L859 374.7 L858 375.7" stroke-width="1.3"/>
<path d="M861.3 343.5 L863 345.2 L861.8 347.3 L863.3 349 L863 351.2 L864.6 349.8 L866.4 350.9 L868.7 349.9 L868.7 352 L870.7 352.5 L870.7 354.1 L871.9 356 L870.7 357.5 L871.4 359.8 L869.3 360.2 L869.2 362.1 L867.3 362.7 L867.2 365.2 L865.3 364.5 L864.7 366.4 L862.8 365.6 L862.3 366.6 L861.8 368.6 L863.1 369.1 L864.9 370.6 L866.8 370.6" stroke-width="1"/>
<path d="M858.2 332.9 L857.9 334.7 L859.9 335.4 L859.2 337.4 L860.9 338.2 L860.4 340.2 L862 341" stroke-width="1.1"/>
<path d="M848.3 385.2 L846.2 386.3 L846.3 388.7 L844.2 389.8 L844.3 392.2 L842 393.5 L842.8 395.8 L841.2 397.5 L841.8 399.8 L841.2 401.8" stroke-width="0.9"/>
<path d="M826.1 409.6 L827.4 412.3 L824.1 411.9 L825.3 414.5 L822.6 414.5 L824 417.2 L820.9 417.2 L822.2 419.2 L820.4 419.9 L821.4 421.8 L818.7 422.1 L820.2 424.2 L817.9 424.7 L818.8 427.3 L816.3 426.3 L817.1 429.4 L814.5 428.3 L815.1 431.1 L812.6 430.2 L813 432.5 L810 431.4 L810.6 434 L808.2 433.5 L809 436.2 L806.1 435.2 L806.9 437.9 L804.5 437.5 L805.3 440.3 L802.2 439.6 L803.5 441.9 L801.4 442.4 L802.8 444.7 L799.8 444.7 L801.6 447.2 L798.8 447.4 L800.2 449.7 L796.9 449.9 L799.5 451.8 L797.1 452.6 L798.4 454.2 L796.5 455.1 L798.3 456.8 L795.7 457.6 L798 459.2 L795.3 460.3 L797.5 462 L794.5 463.1 L796.7 464.7 L794.6 465.9 L797.1 467.6 L794.3 468.7 L796.3 470.3 L794.3 471.6 L796.5 473.1 L794.3 474.5 L796.2 476 L793.8 477.3 L796.1 478.9 L794.1 480.2 L794.4 481.7" stroke-width="1"/>
<path d="M801.3 567.8 L799.7 569.4 L798.1 567.7 L796.6 569 L795.5 568 L793.3 566.8 L794.1 564.5 L791.9 563.3 L792.5 561 L790.5 560.6 L790.7 558.3 L788.4 558.2 L788.6 555.9 L786 556 L786.6 553.4 L783.8 553.7 L784.2 551.3 L782 550.7 L782.1 548.2 L779.3 547 L781.1 545.7 L780 543.6 L782.4 542.5 L780.7 540.2 L782.7 538.7 L780.4 538.2 L779.8 536 L776.8 534.8 L778.6 533.2 L777 531.5 L778.9 529.9 L777.1 528.3 L778.9 526.6 L778.3 525" stroke-width="0.9"/>
<path d="M824.5 591.2 L822.2 592.3 L821.7 589.9 L819.6 590.7 L819.1 588.9 L816.9 588 L818.4 586.1 L816.8 585 L817.5 583.1 L815.3 583.1 L814.7 581 L812.5 581.1 L811.8 579.1 L810.1 579.9 L809 578.2 L807.3 579.4 L806.5 577.8 L804.8 576.9 L805.1 575 L803.1 574.2 L803.8 572.1 L802.7 570.9" stroke-width="0.9"/>
<path d="M747.1 498.2 L746.6 500.8 L744 500.8 L743.5 503.4 L741 503.5 L740.4 506 L737.7 506.4 L737.4 509.2 L735 509.5 L733.1 510.7 L731.2 509.6 L729.4 511.2 L727.7 509.9 L725.9 508.8 L726.2 506.5 L723.9 505.8 L723.8 503.8" stroke-width="0.9"/>
<path d="M717 500.3 L714.3 500.3 L712.9 497.9 L710.5 498.2 L708.5 496.8 L706.3 498 L704.2 496.1 L702.2 497.8 L700 496.7 L698.1 498 L695.3 497.8 L693 499.4 L690.2 498.7 L687.8 499.8" stroke-width="0.9"/>
<path d="M647.8 520.8 L650.9 513.2 L655.4 508.1 L656 513.2 L653.5 520.8 L649.7 524.6 Z" fill="#4a4a4a" stroke-width="0.8"/>
<path d="M622 529.8 L624.7 529.1 L624.3 531 L627 530.3 L625.7 532.9 L626.8 532.3 L627.9 534.5 L628.9 532 L630 534.7 L631.1 532.1 L632.1 534.8 L632.6 532.2 L634.6 533.9 L634.5 530.7 L636.7 533.1 L636.6 529.8 L638.8 532.3 L638.9 529.9 L641.1 531.3 L640.6 528.2 L642.9 529.5 L642.9 527.3 L644.9 528.9 L645.1 525.8 L647.1 528.4 L647.2 525 L649.2 527.8 L649.4 524.6 L650.9 526.9 L651.9 524.1 L652.9 526.4 L654 523.7 L655 526.5 L657 524.2 L656.3 527.5 L658.7 525.3 L658.5 527.8 L660.6 526.1 L659.6 528.1 L661.4 529.8 L659.6 530.2 L661.1 531.8 L659.1 531.9 L659.1 534.6 L656.8 532.5 L656.9 535.2 L654.8 533.6 L654.1 534.8" stroke-width="1.2"/>
<path d="M600.8 525.6 L600.3 522.4 L603 521.4 L604.3 519.2 L606.3 519.4 L608.7 518.7 L610.1 520.6 L612.9 520.5 L612.6 522.5 L614 523.2 L615.6 525.5 L618.3 525.7 L619.5 527.5 L621.6 527.5 L623 529" stroke-width="0.9"/>
<path d="M510.1 603.5 L508 601.6 L509.4 599.3 L507.5 597.3 L509 594.9 L507.1 593.4 L508 591.2 L506.1 589.7 L507.1 587.4 L505.2 585.8 L506.6 583.5 L504.4 581.9 L505.7 579.7 L503.5 577.5 L506 576 L504.8 573.7 L506.5 572.1 L505.2 569.3 L508 568.6 L507.5 566 L509.7 564.9 L509.3 562 L512 561.6 L512.6 559 L515.5 558.8 L516.1 556.1 L518.4 555.8 L519.2 553.5 L521.6 553.4 L522.2 551 L524.8 551.2 L525.3 548.4 L527.7 549 L528.4 546.6 L530.7 547 L531.8 545.3 L534 545.5 L535.1 542.9 L537.8 543.8 L538.7 540.9 L541.6 541.9 L542.5 539.6 L545.1 539.4 L545.4 536.5 L548 536.3 L548.7 534 L551.1 533.7 L552 531.5 L554.4 531.1 L555.6 529.4" stroke-width="0.9"/>
<path d="M508.6 602 L507.6 592 L505.6 583 L504.6 577" stroke-width="1.6"/>
<path d="M836.5 581 L836.8 588 L833.5 594.5 L828 599.5 L821.5 602.5 M817 604.5 L810 607.5 L806 609 M802.5 608.8 L803.5 608.4 M787.5 608.6 L789 608" stroke-width="1.1"/>
<path d="M794.2 500.5 L794.6 506 L796 510 L797.3 509.2 M794 479 L790.3 476.9 L785.3 477.9 L783.6 481.5 M812 519 L814.5 523.5 L817.5 527.5" stroke-width="1"/>
<path d="M781.5 540.5 L783.5 543 L782.8 546.5 L784.6 549 M794 558 L796.4 561 L795.8 565" stroke-width="1.3"/>
<path d="M918.6 217.8 L921 216.8 L923.7 216.1 M927.7 215.7 L930.5 216.5 L932.8 215.9 M908.6 224.4 L909.2 224.9" stroke-width="1.4"/>
</g>
<g fill="#fff" stroke="#4a4a4a" stroke-width="0.9"><path d="M107.5 385 L113 386 L118 388.5 L123.5 390 L117 389.5 L110 388Z"/><circle cx="117.5" cy="405" r="1"/><path d="M135.5 404.5 L138.5 406 L139 409 L136.5 408Z"/><path d="M133.5 413.5 L135.5 416 L136 419.5 L134 417Z"/></g>
<text x="128.7" y="146.2" font-size="20" class="b" textLength="63.3" lengthAdjust="spacingAndGlyphs" fill="none" stroke="#8f8f8f" stroke-width="2.7" stroke-linejoin="round">Above</text>
<text x="128.7" y="146.2" font-size="20" class="b" textLength="63.3" lengthAdjust="spacingAndGlyphs" fill="none" stroke="#fff" stroke-width="1.9" stroke-linejoin="round">Above</text>
<text x="128.7" y="146.2" font-size="20" class="b" textLength="63.3" lengthAdjust="spacingAndGlyphs" fill="#000">Above</text>
<text x="592.2" y="197.5" font-size="20" class="b" textLength="63.6" lengthAdjust="spacingAndGlyphs" fill="none" stroke="#8f8f8f" stroke-width="2.7" stroke-linejoin="round">Above</text>
<text x="592.2" y="197.5" font-size="20" class="b" textLength="63.6" lengthAdjust="spacingAndGlyphs" fill="none" stroke="#fff" stroke-width="1.9" stroke-linejoin="round">Above</text>
<text x="592.2" y="197.5" font-size="20" class="b" textLength="63.6" lengthAdjust="spacingAndGlyphs" fill="#000">Above</text>
<text x="737.3" y="495.5" font-size="20" class="b" textLength="59.7" lengthAdjust="spacingAndGlyphs" fill="none" stroke="#8f8f8f" stroke-width="2.7" stroke-linejoin="round">Below</text>
<text x="737.3" y="495.5" font-size="20" class="b" textLength="59.7" lengthAdjust="spacingAndGlyphs" fill="none" stroke="#fff" stroke-width="1.9" stroke-linejoin="round">Below</text>
<text x="737.3" y="495.5" font-size="20" class="b" textLength="59.7" lengthAdjust="spacingAndGlyphs" fill="#000">Below</text>
<text x="368.5" y="400.2" font-size="20.2" class="b" textLength="58.5" lengthAdjust="spacingAndGlyphs" fill="#111">Equal</text>
<text x="353.6" y="425.3" font-size="20.2" class="b" textLength="88.4" lengthAdjust="spacingAndGlyphs" fill="#111">Chances</text>
<text x="193" y="41.5" font-size="46.4" textLength="639" lengthAdjust="spacingAndGlyphs" fill="#000">Week 3-4 Precipitation Outlook</text>
<text x="392.2" y="72.6" font-size="22.5" class="b" textLength="58" lengthAdjust="spacingAndGlyphs" fill="#000" stroke="#000" stroke-width="0.5">Valid:</text>
<text x="462.5" y="72.6" font-size="22.5" textLength="224" lengthAdjust="spacingAndGlyphs" fill="#000">November 15 - 28, 2025</text>
<text x="391.5" y="96.8" font-size="22.5" class="b" textLength="76.5" lengthAdjust="spacingAndGlyphs" fill="#000" stroke="#000" stroke-width="0.5">Issued:</text>
<text x="480.5" y="96.8" font-size="22.5" textLength="160.5" lengthAdjust="spacingAndGlyphs" fill="#000">October 31, 2025</text>
<path d="M203 478.8 L195 475 L185 476.2 L175 472.5 L165 470 L155 468.8 L147.5 470 L142.5 463.8 L136.2 462.5 L130 461.2 L126.2 455 L120 457.5 L112.5 461.2 L102.5 463.8 L95 467.5 L90 472.5 L86.2 478.8 L77.5 480 L70 481.2 L67 485.5 L71.2 492.5 L75 500 L80 507.5 L85 511.2 L88.8 512.5 L87.5 517.5 L89.5 523.8 L85 522.5 L77.5 523.8 L73.8 520 L75 515 L65 515 L55 517.5 L47.5 520.5 L50 526.2 L56.2 530 L53.8 536.2 L56.2 541.2 L65 543.8 L72.5 546.2 L77.5 543.8 L86.2 542.5 L88 546.2 L85 550 L85 557.5 L80 561.2 L73.8 560 L68.8 565 L62.5 562.5 L56.2 570 L50 575 L45 577.5 L44 585.5 L48 591.3 L45 598.2 L49 606 L51.9 611.9 L62.7 611.3 L66.6 616.8 L67.6 626.6 L62.7 630.5 L68.6 631.5 L75.4 627.6 L80.3 630.5 L84.2 637.4 L89.1 632.5 L96 635.4 L99.9 633.5 L96 642.3 L93 650.1 L87.2 656 L82.3 659.9 L74.4 663.8 L68.6 668.7 L64.6 672.6 L58.8 670.7 L51.9 672.6 L44.1 677.5 L35.3 679.5 L28.4 681.4 L25.5 685.4 L23.5 689.3 L17.6 687.3 L9.8 690.3 L9.8 693.2 L19.6 690.3 L26.4 686.3 L39.2 684.4 L50.9 679.5 L64.6 676.6 L74.4 673.6 L84.2 669.7 L94 663.8 L101.9 657.9 L106.8 653.7 L113.7 648 L120.5 643.5 L126.2 636.6 L121.6 633.2 L123.9 627.5 L129.6 624.1 L134.1 618.4 L137.5 612.8 L142.1 608.2 L147.8 604.2 L153.5 602.5 L156.9 599.7 L157.5 603 L154.6 604.8 L150.1 607.1 L145.5 609.3 L143.2 613.9 L141 619.6 L139.2 624.1 L142.1 626.4 L144.9 624.7 L139.8 629.8 L138.7 632.7 L142.1 633.8 L147.8 631 L152.3 627.5 L156.9 623 L161.4 620.7 L163.7 616.2 L163.1 610.5 L167.1 605.9 L170.5 603.6 L172.8 608.2 L179.6 604.8 L181.9 610.5 L178.5 616.2 L172.8 619.6 L168.3 623.6 L176 619 L184.2 615.6 L191 616.7 L195.6 619.6 L193.3 623 L196.8 619.7 L204.6 616.8 L214.4 617.8 L222.3 619.7 L230.1 623.7 L237.9 628.6 L243.8 632.5 L249.7 635.4 L255.6 640.3 L261.4 646.2 L265.4 652.1 L269.3 657.9 L275.2 657.9 L277.1 665.8 L281 669.7 L285 675.6 L288.9 681.4 L294.8 683.4 L300.6 682.4 L306.5 677.5 L312.4 679.5 L315.3 669.7 L312.4 657.9 L302.6 656 L294.8 652.1 L288.9 644.2 L281 636.4 L273.2 627.6 L265.4 620.7 L258.5 615.8 L251.7 620.7 L246.8 630.5 L241.9 626.6 L234 618.8 L226.2 615.8 L216.8 614.8 L212.5 560Z M113.7 671.3 L117.1 668.5 L114.8 658.2 L120.5 653.7 L127.3 646.9 L133 641.2 L138.7 645.8 L135.3 651.4 L134.1 658.2 L128.4 662.8 L122.8 666.2 L118.2 669.6Z" fill="#fff"/>
<g clip-path="url(#ca)">
<path d="M60 640 C61.3 637.6 66.2 629.1 67.6 625.6 C69 622.1 67.8 621.2 68.6 618.8 C69.4 616.3 70.5 613.8 72.5 610.9 C74.5 608 77.4 604.2 80.3 601.1 C83.2 598 86.5 595.1 90.1 592.3 C93.7 589.5 97.3 587.1 101.9 584.5 C106.5 581.9 111.6 579.1 117.5 576.6 C123.4 574.2 130.6 571.7 137.1 569.8 C143.6 567.9 150.2 566.6 156.7 565.5 C163.2 564.4 169.9 563.6 176.3 562.9 C182.7 562.2 189.2 562.2 195 561.2 C200.8 560.3 205.4 558.9 211.2 557 C217.1 555.1 226.9 551.2 230 550 L330 560 L330 700 L140 700 L97 661.9 L87.2 656 L70 648Z" fill="#b3d9ab" stroke="#7f7f7f" stroke-width="0.9"/>
<path d="M214.6 583.7 C207.9 588.5 211.1 586.3 210 588.5 C208.9 590.7 208 593.9 207.8 596.8 C207.6 599.7 208 603.3 209 606 C210 608.7 211.7 610.4 213.9 612.8 C216.1 615.2 218.5 618.1 222 620.5 C225.5 622.9 231.5 625.6 235 627 C238.5 628.4 240.5 627.3 243 629 C245.5 630.7 247.8 634 250 637 C252.2 640 254 643.2 256 647 C258 650.8 258.8 655.3 262 660 C265.2 664.7 271.2 670 275 675 C278.8 680 281.2 687.5 285 690 C288.8 692.5 295.8 695.8 298 690 C300.2 684.2 297.7 663.3 298 655 C298.3 646.7 294.7 649.2 300 640 C305.3 630.8 325 613.3 330 600 C335 586.7 343.3 566.7 330 560 C316.7 553.3 269.2 556 250 560 C230.8 564 221.3 579 214.6 583.7Z" fill="#94cd7e" stroke="#86b876" stroke-width="0.7"/>
</g>
<g fill="none" stroke="#4a4a4a" stroke-width="1.3" stroke-linejoin="round">
<path d="M203 478.8 L200.2 477.8 L197.7 476.1 L195 475 L192.5 475.7 L189.9 475.1 L187.5 476 L185 476.2 L182.4 475.6 L180.2 473.8 L177.7 473 L175 472.5 L172.6 471.3 L170.1 471 L167.4 471.1 L165 470 L162.5 469.9 L159.9 469.8 L157.6 468.6 L155 468.8 L152.6 469.9 L149.9 469.1 L147.5 470 L145.4 468.2 L143.9 466 L142.5 463.8 L139.4 462.9 L136.2 462.5 L133.2 461.6 L130 461.2 L128.8 459.2 L127.6 457 L126.2 455 L123.1 456.1 L120 457.5 L117.4 458.6 L115.3 460.6 L112.5 461.2 L110.1 462.2 L107.7 463.2 L105 463 L102.5 463.8 L100.1 465.3 L97.7 466.6 L95 467.5 L92.8 470.3 L90 472.5 L88.1 474.2 L88 477 L86.2 478.8 L83.2 478.5 L80.3 478.9 L77.5 480 L75.1 480.9 L72.4 480.3 L70 481.2 L68.9 483.7 L67 485.5 L68.2 488 L70.4 489.9 L71.2 492.5 L72.8 494.9 L73.8 497.5 L75 500 L76.8 502.4 L77.9 505.3 L80 507.5 L82.4 509.6 L85 511.2 L88.8 512.5 L88.8 515.2 L87.5 517.5 L88.4 520.7 L89.5 523.8 L85 522.5 L82.6 523.6 L80.1 523.8 L77.5 523.8 L75.5 522 L73.8 520 L74.1 517.4 L75 515 L72.5 514.9 L70 514.2 L67.5 514.6 L65 515 L62.5 515.6 L59.9 515.7 L57.6 517.4 L55 517.5 L52.4 518.2 L49.7 518.8 L47.5 520.5 L48.1 523.7 L50 526.2 L52.1 527.5 L54.1 528.9 L56.2 530 L55.2 533.2 L53.8 536.2 L55.1 538.7 L56.2 541.2 L59 542.8 L62.2 542.4 L65 543.8 L67.3 545.1 L70.1 545 L72.5 546.2 L75 545.1 L77.5 543.8 L80.4 543.4 L83.2 542.2 L86.2 542.5 L88 546.2 L86.5 548.1 L85 550 L85.8 552.5 L84.3 555 L85 557.5 L82.1 558.8 L80 561.2 L76.9 560.5 L73.8 560 L70.9 562.2 L68.8 565 L65.8 563.4 L62.5 562.5 L61.3 564.7 L59.9 566.7 L58 568.3 L56.2 570 L54.2 571.8 L52.1 573.3 L50 575 L47.4 576 L45 577.5 L44.3 580.1 L44.2 582.8 L44 585.5 L46.7 587.9 L48 591.3 L47.2 593.7 L45.8 595.8 L45 598.2 L45.8 601.1 L48.4 603 L49 606 L50.1 609.1 L51.9 611.9 L54.6 611.7 L57.3 611.3 L60 612 L62.7 611.3 L64.9 613.9 L66.6 616.8 L67.3 619.2 L67 621.7 L67.1 624.2 L67.6 626.6 L65.5 629 L62.7 630.5 L65.6 631 L68.6 631.5 L70.7 629.9 L73.3 629.3 L75.4 627.6 L78.2 628.4 L80.3 630.5 L81.1 633.1 L82.9 635.1 L84.2 637.4 L86.3 634.6 L89.1 632.5 L91.5 633.2 L93.6 634.8 L96 635.4 L99.9 633.5 L98.9 635.7 L98.5 638.1 L97.5 640.3 L96 642.3 L95.6 645.1 L93.9 647.5 L93 650.1 L90.8 651.9 L89.6 654.5 L87.2 656 L84.4 657.5 L82.3 659.9 L79.6 661.1 L76.8 662 L74.4 663.8 L72.7 665.7 L70.9 667.4 L68.6 668.7 L66.5 670.6 L64.6 672.6 L61.9 671 L58.8 670.7 L55.4 671.7 L51.9 672.6 L49.4 674.4 L46.6 675.8 L44.1 677.5 L41.3 678.9 L38.3 679.3 L35.3 679.5 L31.9 680.7 L28.4 681.4 L26.6 683.1 L25.5 685.4 L23.5 689.3 L20.5 688.4 L17.6 687.3 L14.9 688.1 L12.5 689.4 L9.8 690.3 L9.8 693.2 L12.3 692.6 L14.7 691.8 L16.9 690.3 L19.6 690.3 L21.9 689.1 L24.1 687.5 L26.4 686.3 L29 686.2 L31.5 685.4 L34 684.5 L36.5 684.1 L39.2 684.4 L41.6 683.5 L44 682.7 L46.4 681.9 L48.4 680 L50.9 679.5 L53.5 678.2 L56.3 677.8 L59.3 678.4 L61.9 677.3 L64.6 676.6 L66.9 675.2 L69.6 675.5 L72 674.5 L74.4 673.6 L77 673.1 L79.1 671.2 L82 671.3 L84.2 669.7 L86.6 668.2 L89.3 667 L91.2 664.7 L94 663.8 L96.3 662.8 L98.4 661.4 L99.9 659.4 L101.9 657.9 L104.5 655.9 L106.8 653.7 L108.6 651.3 L111.5 650.1 L113.7 648 L116.1 646.7 L118.5 645.4 L120.5 643.5 L122.8 641.5 L124 638.6 L126.2 636.6 L124.2 634.5 L121.6 633.2 L122.9 630.4 L123.9 627.5 L126.4 625.2 L129.6 624.1 L130.5 621.7 L132.2 620 L134.1 618.4 L135.3 615.3 L137.5 612.8 L139.9 610.5 L142.1 608.2 L145 606.2 L147.8 604.2 L150.7 603.7 L153.5 602.5 L156.9 599.7 L157.5 603 L154.6 604.8 L152.3 605.9 L150.1 607.1 L147.8 608.1 L145.5 609.3 L144.3 611.6 L143.2 613.9 L142.7 617 L141 619.6 L140.1 621.9 L139.2 624.1 L142.1 626.4 L144.9 624.7 L143.2 626.4 L141.8 628.4 L139.8 629.8 L138.7 632.7 L142.1 633.8 L144.7 632 L147.8 631 L150.5 629.8 L152.3 627.5 L154.5 625.2 L156.9 623 L158.8 621.2 L161.4 620.7 L162 618.2 L163.7 616.2 L163.5 613.3 L163.1 610.5 L165.6 608.6 L167.1 605.9 L170.5 603.6 L172.1 605.7 L172.8 608.2 L175.2 607.3 L177.4 606 L179.6 604.8 L180.8 607.6 L181.9 610.5 L180.4 613.4 L178.5 616.2 L175.9 618.3 L172.8 619.6 L170.8 621.9 L168.3 623.6 L170.6 621.6 L173.7 620.9 L176 619 L178.8 617.9 L181.8 617.4 L184.2 615.6 L187.5 616.7 L191 616.7 L193.3 618.1 L195.6 619.6 L193.3 623 L195.6 621.9 L196.8 619.7 L199.6 619.2 L202.2 618.2 L204.6 616.8 L207 617.4 L209.5 617.1 L211.9 618.3 L214.4 617.8 L217 618.5 L219.8 618.6 L222.3 619.7 L225 620.9 L227.2 622.9 L230.1 623.7 L232.3 626 L235.3 627 L237.9 628.6 L241 630.3 L243.8 632.5 L246.7 634.1 L249.7 635.4 L251.3 637.5 L254.1 638.1 L255.6 640.3 L257.3 642.5 L259 644.6 L261.4 646.2 L263.2 649.3 L265.4 652.1 L266.8 655.4 L269.3 657.9 L272.2 658 L275.2 657.9 L276 660.5 L275.7 663.3 L277.1 665.8 L278.7 668.1 L281 669.7 L283.4 672.4 L285 675.6 L287.5 678.1 L288.9 681.4 L291.7 682.7 L294.8 683.4 L297.7 683.2 L300.6 682.4 L302.4 680.6 L304.1 678.6 L306.5 677.5 L309.3 678.9 L312.4 679.5 L312.9 677 L314.1 674.7 L314.7 672.2 L315.3 669.7 L314.8 667.3 L314.9 664.8 L314.1 662.5 L313.3 660.2 L312.4 657.9 L310 657.3 L307.6 656.5 L305.1 656.1 L302.6 656 L299.8 655.1 L297.6 652.9 L294.8 652.1 L292.8 650.5 L292.2 647.9 L290.3 646.2 L288.9 644.2 L286.5 642.6 L284.7 640.5 L282.7 638.6 L281 636.4 L279.1 634.1 L276.6 632.4 L274.8 630.1 L273.2 627.6 L271 626.2 L269.6 623.8 L267.4 622.3 L265.4 620.7 L263.1 619 L260.4 618 L258.5 615.8 L256.1 617.2 L253.7 618.7 L251.7 620.7 L250.3 623.1 L249.2 625.6 L248.7 628.4 L246.8 630.5 L244.8 628 L241.9 626.6 L239.9 624.7 L238.4 622.2 L235.9 620.8 L234 618.8 L231.5 617.6 L228.9 616.5 L226.2 615.8 L223 616.3 L219.9 615.9 L216.8 614.8"/>
<path d="M216.8 614.8 L212.5 560 L203 478.75" stroke-width="0.85"/>
<path d="M113.7 671.3 L117.1 668.5 L114.8 658.2 L120.5 653.7 L127.3 646.9 L133 641.2 L138.7 645.8 L135.3 651.4 L134.1 658.2 L128.4 662.8 L122.8 666.2 L118.2 669.6Z"/>
<path d="M16.2 541.2 L21.2 540 L25 547.5 L33.8 552.5 L32.5 555 L26.2 553.8 L21.2 547.5 L16.2 546.2Z" fill="#fff"/><path d="M29.5 600 L37.5 597.5 L41.2 602.5 L37.5 607.5 L32.5 605Z" fill="#fff"/>
</g>
<g fill="none" stroke="#4a4a4a" stroke-linejoin="round" stroke-linecap="round">
<path d="M272.9 631.4 L273.1 633.9 L273.8 636.2 L273.4 638.7 M286.3 668.6 L288.8 669.7 L291.5 669.7 L294.3 669.7 M291.6 657.8 L292.3 660.5 L294.7 661.7 L295.8 664.3 M309.4 662.4 L310.6 663 L311.6 664.1 L312.5 665.2 M280.6 642.5 L281.7 644.8 L281.7 647.3 L282.5 649.8 M256.3 620.2 L255.7 622.9 L255.5 625.7 L257.6 627.5 M265.7 630.1 L266.3 631.9 L268 632.7 L268.7 634.5 M298.3 665.3 L298.7 666.8 L298.8 668.4 L297.9 669.8 M251.2 631.8 L251.6 633.5 L253 634.4 L252.7 636.1 M287.8 664 L287.1 666.1 L286.7 668.2 L286.5 670.3 M296.6 668.8 L298.4 669.5 L299.9 670.8 L301.3 672 M288.7 671.9 L289.8 673.3 L291.4 674.2 L292 675.9 M281.1 656 L281.8 657.2 L281.6 658.7 L281.6 660.1 M295.9 663.7 L297.4 665.8 L296.8 668.3 L297.9 670.7 M291.7 651.7 L291.9 653 L292.2 654.4 L293.1 655.4 M287 662.4 L288.6 664 L290.9 664.1 L293.2 664.1 M280 666.8 L282 668.3 L283.3 670.4 L285.5 671.8 M292.7 666.7 L295.3 666.2 L297.9 666.7 L300.5 667.2 M257.7 621.8 L258.9 623.2 L260.8 623.2 L261.8 624.7 M305 668.5 L305.3 670.6 L304.6 672.6 L305 674.7 M274.5 652.6 L273.5 654 L273.7 655.7 L272.7 657.1 M277.6 660.1 L279 661 L280.3 662.1 L281.8 662.8 M296.7 658.7 L295 660.9 L293.6 663.4 L291.9 665.6 M277.8 644.9 L277.8 646.3 L277.8 647.7 L278.8 648.7 M281.8 662.3 L282.1 663.9 L283.6 664.5 L285.1 665.1 M300.8 669.9 L301.2 671.5 L302.2 672.6 L302.3 674.2 M310.7 668.6 L309.3 669 L308.7 670.4 L307.3 670.9 M256.8 636 L258.1 637.6 L260 638.6 L261.9 639.5 M275.3 639.5 L277.1 640.1 L278.3 641.6 L280.2 641.6 M266.6 647.9 L267.2 650.7 L267.3 653.6 L268.3 656.3 M266.6 633.4 L267.4 635.1 L269.1 636.1 L270 637.8 M282.9 666.4 L285.2 666.1 L287.2 664.9 L289 663.4 M276.2 643.3 L278.8 641.9 L281.7 642.2 L284.5 641.7 M295.6 676.1 L298.3 676.4 L299.9 678.7 L302.6 678.5 M293.4 658.4 L293.3 660.3 L294.3 661.9 L295.9 662.9 M279 652.4 L281.3 651.6 L283.6 650.8 L286.1 651.1 M263.1 648.4 L264 649.6 L265 650.6 L264.9 652.1 M301.6 660.5 L302.6 662.4 L303.7 664.2 L304.6 666.1 M296.4 658.9 L297.9 660.5 L299.1 662.2 L301.1 663 M292.7 657.2 L291.9 660 L292 662.9 L294.2 664.7 M298.6 662.5 L301.4 663 L303.8 661.3 L306.6 660.6 M290.9 680.1 L292.7 681.2 L294.6 682.4 L296 683.9 M298.5 659.3 L299.9 659.3 L301.3 659.6 L302.5 660.3 M299.9 666.5 L301.9 666.8 L303.4 668.1 L304.6 669.8 M309.4 666.9 L310.4 669.1 L312 670.7 L312 673.1 M294 665.5 L296 666.7 L298.2 667.5 L300.4 667.1 M300.3 656.6 L301.8 658.2 L303.9 658.2 L305.2 660 M296.9 669.1 L298.9 669 L300.5 670.3 L301.7 671.9 M266 625.4 L267.5 627.1 L269 628.8 L270.6 630.3 M294.8 654.9 L297.1 655.2 L299.3 655.9 L301.5 656.6 M278.5 655.3 L280.2 655.8 L281.6 654.6 L283.3 654.9 M278.9 662.4 L280.9 662.8 L282.8 663.6 L284.2 665.1 M247.5 629.8 L250 630.1 L252.4 629.4 L254.4 630.9 M286.2 676 L287.2 677.6 L286.5 679.4 L287.5 681 M303.1 670.7 L304.7 672.7 L307.2 672.8 L308.6 675 M283.1 643.6 L285.3 645.5 L287.8 647.1 L288.6 650 M268.1 643.5 L268.8 645.4 L267.7 647.1 L269.1 648.6 M260.6 630 L263.1 629.3 L265 631.1 L267.6 630.4 M302.1 673.9 L304 673.3 L305.9 673.5 L307.6 674.4 M301.8 667 L303.4 669 L305.9 669.3 L308.5 669.4 M274.2 634.4 L276 636.2 L278.5 636.6 L281 636.8 M288.6 671.4 L290.2 671.9 L290.5 673.6 L291.5 675 M285.2 673.7 L285.8 676.3 L288.2 677.5 L290.6 678.6 M282.8 641.2 L283.9 643 L285.3 644.6 L286.9 646 M261.2 641.2 L263.4 641.6 L265.6 642.4 L267.1 644 M283.2 645.7 L283.3 648.3 L284.3 650.8 L286 652.8 M267.8 647.3 L268.3 649.7 L270.7 650.5 L271.4 652.8 M270 635.9 L271.4 636.8 L273 637.3 L274.6 638.1 M312 665.2 L312.6 666.5 L313.9 667 L314.5 668.3 M283 646.8 L285.5 647 L287.7 648 L290.1 648.8 M273.3 631.1 L274.9 632.5 L276.5 633.7 L277.7 635.4 M257.9 627.8 L259.5 629.1 L261.5 629.8 L262.9 631.4 M265.5 638.9 L267.5 639.9 L269.6 640.5 L271.8 640.1 M267.3 642 L270 643.2 L272.9 643.6 L275.8 643.2 M274.4 646.2 L276.2 648.7 L276.6 651.6 L278.1 654.2 M290.9 651.8 L293.6 652 L296 653.3 L297.8 655.3 M250.6 631.2 L250.2 632.6 L250.8 633.9 L251 635.3 M252.2 633.4 L253.7 634.7 L254.4 636.5 L255.9 637.7 M289.4 665.8 L290.9 667.6 L292.2 669.6 L294.1 671 M302.8 670.8 L304.9 671.5 L306.8 672.5 L308.4 674 M305.1 673.5 L306.6 675.7 L308.7 677.2 L310 679.5 M287 672.7 L288.3 672.6 L289.1 673.7 L290 674.7 M265.1 638.7 L266.8 640.3 L268 642.5 L270.4 643 M281.7 652 L283.4 652.5 L285 651.9 L286.8 651.4 M282.6 646.2 L284.4 648.6 L286 651.1 L287.5 653.7 M303.2 674.5 L305.8 675.7 L308.1 673.9 L310.9 674.4 M295.7 676.2 L297.4 677.1 L299.2 678 L301.1 678.5 M271.1 642 L272 643.3 L273.3 644.2 L274.3 645.5 M279.2 658 L278.6 660.3 L279.1 662.7 L280.5 664.7 M274.6 643.8 L275.6 646.6 L277.2 649 L278.9 651.4 M264.4 640.5 L264.5 643.2 L264.6 645.9 L266.7 647.5 M296.7 669.5 L298.7 670.9 L300 672.9 L300.4 675.3 M291.9 677.9 L293.7 677.4 L295.5 676.6 L297.1 677.6 M297.2 675.4 L298.9 676.5 L299.4 678.4 L300.3 680.2 M277.8 660.8 L277.2 662.9 L278.5 664.5 L279.5 666.4 M265.9 638.9 L267.5 639.3 L268.4 640.8 L270.1 641.3 M255.1 630.8 L256.8 632.2 L258.9 632.2 L260.1 634 M256.3 637.2 L256.8 638.8 L258 639.9 L259.2 641.1 M288.7 650.8 L289.1 652.5 L289.9 654.1 L289.8 655.9 M285.4 670.9 L287.6 672.7 L288.7 675.2 L289.3 677.9 M248.5 633.1 L250.9 633.8 L252 636.1 L254.1 637.6 M282.6 657.2 L284.2 658.2 L286.2 658.2 L287.7 659.4 M267.1 622.3 L268.6 622.7 L269.5 624 L270.3 625.3 M276.6 643.6 L277.2 645 L278.4 646 L278.7 647.6 M289.6 649.7 L289.1 651.8 L287.5 653.5 L286.4 655.5 M307.1 660.2 L306.2 661.3 L306.6 662.6 L306.8 663.9 M273.1 648 L274 649.3 L274 650.9 L274.1 652.5 M262.8 626.9 L263.7 628 L263.6 629.3 L264.6 630.3 M286.5 647.6 L286.1 649.1 L287 650.4 L286.7 652 M262 632.5 L264.5 633.5 L267 634.7 L269.3 636.1" stroke-width="1.35"/>
<path d="M265.6 630.9 L266 629.9 L265.8 628.8 L265.9 627.7 M287.2 670.5 L287.7 668.8 L287.4 667 L286.7 665.4 M253.2 622.3 L253.7 620.7 L255 619.6 L255.1 617.9 M284.6 671.9 L285.5 670.2 L286.7 668.8 L286.2 667 M262.4 635.4 L263.5 634.8 L264.4 633.8 L265.2 632.8 M261.2 633.8 L262.7 633.3 L263.6 631.9 L265.3 631.7 M258 641.5 L259.4 640.5 L260.7 639.5 L261 637.8 M265.1 630.1 L265.5 628.2 L266.6 626.7 L267.2 624.9 M264.9 632.5 L266.1 631 L266.9 629.3 L268.8 629.2 M289.8 669.3 L290.8 669 L291.7 669.6 L292.8 669.5 M313.3 674 L314 672.6 L315.2 671.7 L315.5 670.2 M276.6 646.5 L276.4 644.6 L276.8 642.8 L276.4 640.9 M309.3 674.6 L310.2 673.9 L310.8 672.9 L311.7 672.2 M310.4 675.2 L310.2 673.9 L311.2 673.2 L312.4 672.5 M279.4 653 L280.5 652.6 L281.7 652.5 L282.6 651.6 M262.2 638.7 L262.4 637.4 L262.3 636.2 L263.1 635.3 M261.5 624.7 L262.8 623.6 L262.8 621.8 L262.6 620 M276.3 644.4 L277.7 643.4 L279.4 643 L279.5 641.2 M274.4 638.7 L275.4 637.7 L276.2 636.5 L276.9 635.2 M310.3 673.2 L311.3 672.1 L312.5 671.3 L313.3 670 M278 644.4 L279.4 643.4 L280.9 642.7 L282.4 643.5 M286.5 652.5 L287.3 651.9 L288.2 651.2 L289.2 650.9 M252.3 628.4 L253.4 628 L253.8 627 L254.6 626.3 M286.8 651.1 L287.7 650.4 L288 649.2 L288.5 648.1 M251.8 630.2 L253.7 630.1 L255.5 629.4 L257 630.5 M295 657.1 L294.7 655.5 L296 654.6 L296.4 652.9 M292.2 679.3 L293.3 678.1 L294.7 677.5 L296.2 677.1 M264.9 648.8 L265.7 647.2 L267.1 646 L268.3 644.6 M256.9 624.4 L258.6 625.3 L260.2 624.4 L261.9 623.7 M310.5 674.2 L312 673.2 L311.5 671.4 L312.7 670.1" stroke-width="1.2"/>
<path d="M249.5 635.6 L251.9 634.8 L251.4 637.4 L253.7 636.6 L253 639.4 L255.9 638 L255.1 640.8 L257.6 640 L257.1 642.2 L259.2 641.7 L258.4 644.1 L261.2 643.1 L260 645.9 L263 645.1 L261.5 647.6 L263.8 647.4 L262.4 649.8 L265.7 649 L264.2 651.5 L266.4 651.4 L265.4 653.5 L268.1 653.1 L266.5 655.6 L269.5 655 L268 657.4 L269.3 656.2 L270.5 658.6 L271.7 656.7 L272.8 658.2 L274 655.8 L274.1 658.2 L276.9 658.7 L274.6 660.4 L277.6 660.9 L275.9 662.5 L278.5 663.1 L276 664.9 L278.6 664.3 L277.2 667.3 L279.5 666.5 L278.8 668.8 L281.6 667.5 L280 670.4 L282.9 669.9 L281.7 672.1 L284.5 671.6 L283.3 673.9 L286 673.5 L284.1 676.2 L286.6 675.9 L285.6 678 L288.2 677.7 L287.2 679.7 L289.7 679.4 L288.5 682.6 L290.6 680.2 L291.1 682.6 L292.9 681 L293.2 684 L294.4 681.3 L296.1 684.2 L296.9 681.9 L298.5 684.1 L299.1 680.9 L300.8 682.7 L300.8 680.6 L302.8 681 L302.4 678.5 L304.8 679.5 L304.2 676.8 L306.4 677.9 L308.2 676.3 L308.6 679 L310.4 677.6 L311.1 679.4 L312.4 679.5" stroke-width="1.1"/>
<path d="M216.8 614.5 L219.1 615.7 L221.5 614.9 L223.8 616 L226.3 615.6 L228 616.9 L230.2 617.2 L231.9 618.4 L234.1 618.7 L235.2 620.8 L237.5 621.6 L238.3 624 L240.5 624.9 L241.9 626.6" stroke-width="0.8"/>
<path d="M204.6 617.1 L206.3 616 L207.8 617.3 L209.6 616.4 L211.1 617.7 L212.8 617 L214.3 618.1 L216.1 617.5 L217.5 618.9 L219.4 617.8 L220.7 619.5 L222.8 618.8 L223.8 620.7 L226 620.3 L226.7 622.6 L228.9 622.2 L229.7 624.3 L232 623.6 L232.6 625.5 L234.5 625.4 L235 627.5 L237.3 626.7 L237.8 628.8 L239.8 628.9 L240.5 631.1 L243 630.5 L243.7 632.7 L245.6 632.6 L246.5 634.5 L248.6 633.9 L249.7 635.4" stroke-width="1"/>
<path d="M170.1 604.9 L169.5 606.1 L170.1 607.2 L170.5 608.5 M177.8 607.6 L177.2 609.1 L176.7 610.6 L177.6 612 M168.8 605.8 L169 607.3 L168.5 608.8 L168.4 610.4 M176.7 607.2 L178.7 607.1 L180 608.5 L181.9 608.5 M177.8 610.8 L177.2 611.7 L176.3 612.3 L176 613.3 M169.3 606.1 L169.7 605.2 L170.8 605.4 L171.6 604.8 M169.4 616.6 L171.3 616.8 L173.1 617.4 L174.8 618.4 M169.2 614.6 L170.2 613.9 L170.4 612.7 L171.4 612 M174.7 617.8 L173.8 618.2 L173.6 619.2 L173.7 620.2 M167.8 614.4 L168.8 614.3 L169.5 613.7 L170.4 613.1 M166.4 613.4 L167.6 613.6 L168.8 613.3 L169.9 612.6 M169.6 609.4 L170.9 610.4 L172.4 610.8 L173.5 611.9 M172.6 613 L171.7 612.1 L171.8 610.9 L171.3 609.7 M180.8 612.1 L180.9 613.9 L179.4 614.9 L177.8 615.7 M164.8 615.9 L164.1 616.8 L164 617.9 L163.3 618.7 M168.7 613.3 L169.7 612.3 L171 611.5 L172.3 611 M177.8 605.9 L178.1 607.1 L178.8 608.1 L178.4 609.3 M170.7 616.4 L171.8 615.6 L172.8 614.8 L173.6 613.7 M179.3 607.2 L178.3 607.1 L177.3 606.9 L176.5 607.5 M170.1 618.1 L171.1 618.5 L172 619.1 L173 619.3 M177 611.2 L178.5 610.9 L180 611 L181.4 611.7 M169 616 L170.4 615.8 L171.2 617 L172.6 617.1 M176 610.8 L175.7 612.2 L174.5 612.9 L173.8 614.1 M170.4 614.4 L170.1 616.3 L168.6 617.5 L166.7 618.1 M170.1 614.3 L168.3 614.7 L166.7 615.7 L165.8 617.2 M179.7 608.4 L178.2 609.1 L176.8 609.9 L175.9 611.2 M171.3 614.9 L172.2 616.2 L171.4 617.5 L171 619 M172.3 613.6 L171.8 611.8 L172.8 610.1 L173.4 608.2 M172.6 610.2 L172.6 611.9 L173.3 613.5 L172.4 614.9 M175.9 610.2 L174.6 610.1 L173.5 610.6 L172.7 611.5 M166.3 617.7 L167.7 618.4 L168.6 619.6 L170 619.9 M169 621.1 L170.6 620.1 L172.5 620.1 L174.3 619.4 M174.9 611.7 L175.7 613 L176 614.5 L177.5 614.8 M165.2 614.2 L166 615.9 L167.6 616.9 L168.1 618.8 M178 606 L179.1 607.3 L180 608.7 L180.2 610.4 M170.5 608.7 L171.3 609.8 L171.5 611.1 L172.2 612.3 M171.1 610.6 L171.3 612.2 L172.8 612.9 L173.3 614.4 M174.8 611.8 L175.8 612.4 L177 612.3 L177.9 613 M165.3 619.1 L166.6 618.9 L167.8 619.6 L169 619.2 M164.1 617.6 L165.3 618.2 L166.6 618 L167.5 617.1 M170.6 610.2 L171.1 611.2 L171.6 612.2 L172.3 613 M164.1 613.2 L165.5 613.2 L166.3 614.1 L167.1 615.2 M168.3 611.2 L167 612 L166 613.1 L165.6 614.6 M179.1 608.6 L178.8 610.1 L177.6 611.2 L176.2 611.9 M176.8 608.3 L176.7 609.5 L176.5 610.6 L176.6 611.8 M165.3 611.6 L165.3 612.7 L165.3 613.8 L164.5 614.6 M173.5 617.1 L172.7 618.1 L172.3 619.2 L172.8 620.3 M170.5 617.8 L171.2 618.7 L171.2 619.9 L171.6 621" stroke-width="1.7"/>
<path d="M163.1 611.8 L165.1 611.6 L164.2 609.7 L166.2 609.5 L165.3 607.7 L167.4 607.6 L166.9 605.8 L168.8 606.1 L169.2 604.2 L169.7 603.9 L171.4 604.3 L170.1 606.2 L172.5 606.2 L171.4 608.1 L172.6 607.7 L174.8 609.2 L174.9 606.7 L176.7 607.5 L177 605.5 L179 606.4 L180.3 604.4 L179.2 606.3 L180.9 606.9 L179.8 608.8 L182.1 609.1 L180.9 609.8 L182 612 L179.8 612.2 L180.6 614.2 L177.9 614.1 L178.6 616.2 L176.8 615.8 L176.6 617.8 L174.6 617.2 L174.4 619.3 L172.3 618.8 L172.6 620.8 L170.2 620 L170.9 622.6 L168.4 621.6 L168.2 623.7 L168.8 621.7 L166.4 622.2 L167.2 619.9 L165 620.3 L165.5 618.3 L163.2 618.1 L164.9 616.7 L163.2 615.7 L164.7 614.3 L163 613.2 L163.5 612" stroke-width="1.1"/>
<path d="M172.5 609.5 L173.3 611.8 L175.8 612.3 L173.6 613.6 L174 616 L172.2 614.2 L170 615 L171 612.8 L169.5 611 L171.8 611.2Z" fill="#fff" stroke="none"/>
<path d="M141.7 633 L143.8 634.4 L143.9 631.8 L146.2 633.4 L146.1 630.4 L148.6 632 L148 629.5 L150.4 630.6 L149.7 627.9 L152.7 629.8 L152 627.2 L154.5 627.9 L153.8 625.3 L156.2 626 L155.2 623.1 L157.5 624.1 L157.8 622 L159.7 622.9 L160.1 621 L162.9 621.5 L161.6 619.4 L163.7 619 L162.2 616.9 L163.7 616.2" stroke-width="1.1"/>
<path d="M193.1 623.1 L193.5 621.2 L192 620.1 L192.6 618.1 L190.9 617.4 L189.4 616 L187.6 616.5 L186.1 614.9 L184.2 615.6" stroke-width="1"/>
<path d="M126.1 649.2 L127.4 648.6 L127.2 647.1 L127.5 645.6 M130.6 643.8 L131.5 643 L132.5 642.4 L132.6 641.3 M121.9 659.4 L123.1 657.9 L123.6 656 L124.5 654.3 M128.2 653.6 L129.1 652 L129.4 650.2 L130.5 648.8 M128.4 653.6 L129.4 655.1 L131.2 655.4 L132.3 656.8 M126.9 655.2 L128.1 654.5 L128.9 653.3 L129.5 652 M122.7 664.5 L124 663.4 L125.5 663 L127.1 662.6 M129.8 656.8 L130.6 655.6 L131.7 654.5 L133.2 654.4 M122.1 652.6 L122.8 651.9 L123.8 651.5 L124.5 650.7 M120 656.7 L121 656.3 L122 656.1 L123 655.9 M121 661.2 L122.2 661.5 L123.4 661.8 L124.7 661.8 M127.7 646.8 L128.4 645.6 L129.5 644.7 L130.8 645 M126.8 656.1 L127.9 656.3 L128.9 655.6 L129.6 654.8 M119.4 664.8 L120.9 664.1 L122.3 663.2 L123.8 662.5 M131.3 654.4 L132.5 654.7 L133.7 654.5 L135 654.6 M122.7 660 L124.2 659.6 L125.5 658.7 L127.1 658.4 M119.8 660.1 L121.2 659.1 L122.9 658.8 L124.5 658.3 M130.3 657.3 L130 656 L129.2 654.9 L128.7 653.7 M128.8 657.1 L129.3 655.6 L130.2 654.3 L131.4 653.2 M124.4 655.5 L125.3 654.9 L126.3 654.8 L127.3 654.9 M121.3 665.8 L122.5 665.5 L123.3 664.6 L123.3 663.4 M130.5 652.3 L131.5 652 L132 651 L132.9 650.3 M128.7 651.5 L130.2 650.8 L130.2 649.2 L130.8 647.6 M129.9 653.5 L131 652.5 L132.3 651.6 L133.8 651.1 M125.7 649.4 L125.9 648 L126.1 646.5 L127.4 645.7 M122.9 652.3 L124.3 652.5 L125.3 651.4 L126.7 651.5 M116.6 665.8 L117.6 665.3 L118 664.2 L119.2 664.1 M120.2 662.6 L121.1 661 L122.5 660 L123.8 658.8 M123.4 659.9 L124.6 659.2 L126 659.2 L127.2 658.6 M132.1 646.6 L131.8 645.2 L131 644 L130.7 642.5" stroke-width="1.15"/>
<path d="M113.4 671 L115.3 671.5 L115.2 669.7 L117.2 670.3 L116.7 668.6 L118.1 667.1 L115.7 666.4 L117.4 664.8 L115.2 664.1 L117.2 662.5 L115 661.8 L116.6 660.2 L114.4 659.5 L115.5 659.1 L115.2 656.7 L117.4 657.6 L117.1 655.2 L119.5 656.4 L119.4 654.3 L121.2 654.4 L121 652.5 L123.2 653 L122.8 650.9 L124.8 651.2 L124.4 649.1 L126.6 649.6 L125.8 647.1 L128.3 647.9 L127.9 645.8 L129.9 646.3 L129.4 644.1 L131.6 644.7 L131 642.4 L133.3 643.1 L133.6 640.5 L133 643.1 L135.4 642.1 L134.9 644.6 L137.2 643.7 L137.2 645.7 L139.5 646.2 L137 646.3 L137.5 648.1 L135.7 648.5 L136.4 650.5 L134.4 651.2 L136 652.7 L134 653.5 L135.6 655 L133.3 655.8 L134.6 657.2 L133.4 657.4 L133.5 659.4 L131.6 659.1 L131.7 661.1 L129.5 660.3 L129.9 662.8 L127.6 661.5 L127.7 664.2 L125.3 662.8 L125.5 665.6 L123.2 664.4 L123.1 666.7 L121.1 665.9 L121.4 668.2 L119.1 667 L119.6 669.6 L117.7 668.2 L117.1 670.2 L115.5 669.4 L114.9 671.1 L113.7 671.3" stroke-width="1.1"/>
<path d="M10.1 694.3 L10.7 691.8 L12.5 693.4 L13.1 690.7 L15 692.8 L15.5 690 L17.5 692.1 L18 689.6 L20.2 691.3 L20 688.4 L22.1 689.3 L22.3 687.1 L24.6 688.4 L24.7 686.1 L26.5 686.9 L27.5 685.1 L29 686.2 L30.1 684.6 L31.6 686 L32.6 684.1 L34.2 686.1 L35.2 683.6 L36.8 685.8 L37.6 682.7 L39.6 685.4 L39.6 682.1 L41.8 684.2 L42.1 681.4 L44.3 683.4 L44.5 680.5 L46.4 681.8 L46.8 679.6 L48.8 681.2 L49.3 678.9 L51 679.8 L51.9 678.1 L53.6 679.9 L54.3 676.9 L56.1 679.3 L56.8 676.8 L58.4 678.2 L59.4 676.7 L61 678.2 L61.8 675.6 L63.5 677.5 L64.3 675.5 L65.9 676.6 L66.7 674.7 L68.4 675.8 L69 673.6 L70.9 675.2 L71.5 672.9 L73.4 674.6 L73.8 672.2 L76 674 L76.2 671 L78.2 672.5 L78.6 669.8 L80.9 672.1 L81.1 669 L83.2 670.8 L83.2 668 L85.8 669.9 L85.7 667.3 L87.9 668.5 L87.6 665.5 L90.1 667.2 L89.8 664.1 L92.2 665.8 L92 663 L94.2 664.1 L94 661.7 L96.2 662.6 L95.9 660.2 L98.6 661.7 L98.1 659 L100.1 659.6 L100.3 657.8 L102.4 658.5 L102.1 656.2 L104.5 656.9 L103.8 654.2 L106.3 655.1 L105.7 652.4 L108 653.2 L107.8 651 L109.9 651.5 L109.7 649.3 L112.3 650.4 L111.9 647.9 L114.1 648.8 L113.7 645.6 L116.2 647 L116.4 644.7 L118.5 645.4 L118.4 642.7 L120.5 643.5" stroke-width="1.1"/>
<path d="M40 686 L46 683.5 L52 685 L50 688 L58 685 L62 688.5 L66 684 L70 687 L64 691 M44 691 L48 689 M56 689.5 L60 692 L66 690.5 L71 689 M13 689.5 L18 687.5 L22 689.5 M98.5 676.5 L99.3 678.5 M105.2 680 L106.5 681.5" stroke-width="1.5"/>
<path d="M67.3 626.3 L66.6 628.6 L64.1 628.9 L62.8 629.7 L64.6 631.4 L66.8 630.4 L68.8 631.9 L69.9 629.8 L72.3 630 L73.4 628.1 L75.3 627.8 L77.5 627.7 L78.4 629.9 L80.8 630.2 L80.9 632.5 L82.8 633.7 L83 635.8 L83.7 636.9 L85.6 636.3 L86.2 634.5 L88.1 634 L89.4 631.7 L90.7 633.5 L92.9 633.2 L94 635.2 L96 635.4" stroke-width="0.9"/>
</g>
<text x="183.7" y="615" font-size="20" class="b" textLength="62" lengthAdjust="spacingAndGlyphs" fill="none" stroke="#8f8f8f" stroke-width="2.7" stroke-linejoin="round">Above</text>
<text x="183.7" y="615" font-size="20" class="b" textLength="62" lengthAdjust="spacingAndGlyphs" fill="none" stroke="#fff" stroke-width="1.9" stroke-linejoin="round">Above</text>
<text x="183.7" y="615" font-size="20" class="b" textLength="62" lengthAdjust="spacingAndGlyphs" fill="#000">Above</text>
<text x="104.8" y="517.5" font-size="20.2" class="b" textLength="58.9" lengthAdjust="spacingAndGlyphs" fill="#111">Equal</text>
<text x="90.4" y="543" font-size="20.2" class="b" textLength="88.2" lengthAdjust="spacingAndGlyphs" fill="#111">Chances</text>
<g fill="none" stroke="#1a1a1a" stroke-width="1.5" stroke-linejoin="miter">
<path d="M9.6 788.8 L9.6 438.25 L186.5 438.25 L325.6 611.4 L642 611.4 L642 788.8 Z"/>
<path d="M325.6 611.4 L325.6 788.8 M9.6 704.6 L325.6 704.6"/>
</g>
<text x="49.6" y="716.9" font-size="10.4" class="b" textLength="31.7" lengthAdjust="spacingAndGlyphs" fill="#1a1a1a">Equal</text>
<text x="32.2" y="731.2" font-size="10.4" class="b" textLength="49.1" lengthAdjust="spacingAndGlyphs" fill="#1a1a1a">Chances</text>
<text x="32.2" y="760" font-size="10.4" class="b" textLength="31.6" lengthAdjust="spacingAndGlyphs" fill="#1a1a1a">Equal</text>
<text x="32.2" y="774.3" font-size="10.4" class="b" textLength="49.1" lengthAdjust="spacingAndGlyphs" fill="#1a1a1a">Chances</text>
<text x="123.7" y="718.6" font-size="10.4" class="b" textLength="79.4" lengthAdjust="spacingAndGlyphs" fill="#1a1a1a">Aleutian Islands</text>
<text x="220.9" y="715.8" font-size="10.4" class="b" textLength="32" lengthAdjust="spacingAndGlyphs" fill="#1a1a1a">Equal</text>
<text x="204" y="730.4" font-size="10.4" class="b" textLength="48.9" lengthAdjust="spacingAndGlyphs" fill="#1a1a1a">Chances</text>
<g fill="none" stroke="#1a1a1a" stroke-width="1.1"><path d="M19.6 717.4 L24.6 763.4 M88.3 719.9 L90.5 765.5 M260.1 719.6 L294.5 744.8"/></g>
<g fill="none" stroke="#4a4a4a" stroke-linejoin="round" stroke-linecap="round" stroke-width="1.35">
<path d="M15.8 713.5 L19 712.4 L23 713.5 L26 716.5 L27.4 719.5 L23 718.8 L19.5 717.4 Z" fill="#f0d493"/>
<path d="M23 728.5 L30 728 L27 731 Z" fill="#f0d493"/>
<path d="M57 739.8 L57.8 740.3 M71.5 756 L75 753.5 L77 755 L80.5 752.5 M76 757 L79 756 M84 755.6 L86.5 758 M85 760 L87.5 762 M88.5 757.5 L91 759" stroke-width="1.6"/>
<path d="M90.5 765.5 L93.5 767 L96 770.5 L98 773 L100.4 773.8" stroke-width="1.8"/>
<circle cx="105.4" cy="761.9" r="1.8"/>
<path d="M119 781 L121 779.5 L123.5 778 M126 768.5 L127 770.5 M124 773.5 L128 775 M131.5 778.5 L132.5 778.7" stroke-width="1.4"/>
<path d="M135 769.5 L138 772 L141 770.5 L139 775.5 L144 774 L147 772 L146 776.5 L151 775 L150 771.5 L155 770 L157 774 L153 778 L158 776.5 L163 775 L165 770.5 L169 772 L168 776 L163 778.5 L156 780 L151 779.5" stroke-width="1.3"/>
<path d="M160 777 L164 773 L166 776.5 L170 775 L176 774.5 L182 775.5 L188 774 L191 771.5 L196 773.5 L203 775.5 L209.5 776.5 M178 772 L179 772.3 M173 770.5 L174 770.7" stroke-width="1.3"/>
<circle cx="191.8" cy="768.9" r="2.4"/><ellipse cx="215.6" cy="771.7" rx="2.6" ry="1.6" transform="rotate(-15 215.6 771.7)"/><ellipse cx="240.5" cy="767.2" rx="2.2" ry="1.4" transform="rotate(-25 240.5 767.2)"/>
<path d="M232 769.5 L234.5 768 M249 763.5 L252 761.5 L254.5 762.5 L253 759 L255.5 758" stroke-width="1.5"/>
<path d="M261.3 764.7 L265 761.5 L267.5 757.5 L271 754.5 L274 757 L272.5 761 L268 762.5 M273 751.5 L276.5 748.5 L280 748.5 L281 752.5 L277.5 755 L274 754 M281.5 753.5 L286 752 L290.5 749.5 L294 746.5 L298.5 744 L302.5 742 L304.5 738.5 L300 740 L296 738.5 L293 740.5 L291.5 744.5 L294.5 747" />
<path d="M287 751 L292 749.5 L297 746 L301 742.5" stroke-width="2.2"/>
<path d="M304.5 737 L307 735 L310.5 736 L309 733 L313 734.8 L317.5 734.5 L322 733.5" stroke-width="1.3"/>
<path d="M325 720 L322.5 723 L320.5 726.5 L321.5 730 L325 731" />
</g>
<g stroke="#4a4a4a" stroke-width="1.35" stroke-linejoin="round">
<path d="M333.6 646.7 L333.1 643.6 L334.4 641.8 L335.2 639.7 L338.3 636.6 L340.2 633.4 L342.2 635 L341.9 638.9 L339.1 642 L337.8 644 L336.2 645.9 L334.7 647.8Z" fill="#f0d493"/>
<path d="M356.2 630.3 L357.3 627.5 L358.6 624.8 L361 622.6 L363.3 620.2 L365.5 619.2 L368.1 619.1 L370.3 618.1 L372.6 618.2 L375 618.2 L377.3 617.8 L379.2 619.2 L380.9 620.9 L381.3 624 L381.2 627.2 L380.8 629.4 L379.9 631.4 L378.9 633.4 L377.2 635.8 L375 637.8 L372.4 637.5 L369.8 637.6 L367.2 637.3 L364.9 636.3 L362.6 635.6 L360.2 635 L357 632.7Z" fill="#f0d493"/>
<path d="M441.4 647.5 L443.7 646.6 L446.1 646.2 L448.1 643.8 L450 641.2 L452.2 639.9 L453.9 638.1 L455.5 639.6 L457 641.2 L458.6 643.6 L460.2 645.9 L461.8 648.2 L463.3 650.6 L466.4 651.4 L468 649.8 L468.8 653.8 L470.2 655.4 L471.9 656.9 L473.4 658.8 L470.3 660.8 L466.4 661.6 L462.5 660 L460.2 659.7 L457.8 659.7 L453.9 661.2 L450 661.9 L448.5 659.8 L446.9 657.7 L445.6 655.2 L443.8 653 L442.7 650.2Z" fill="#f0d493"/>
<path d="M454.2 657.3 L456.5 656.2 L457.3 657.6 L455.3 658.3Z M466.6 650.6 L467.6 648.8" fill="#4a4a4a" stroke-width="0.8"/>
<path d="M492.6 664.7 L494.1 662.6 L496 660.8 L498.5 661 L500.9 661.3 L503.4 661.7 L505.9 661.4 L508.1 660.5 L510.4 659.9 L512.6 659.1 L515.3 659.2 L517.9 659.5 L520.5 659.9 L523.2 659.8 L524.2 662.4 L521.8 663.1 L519.6 664.3 L517.5 665.7 L515.1 665.6 L512.9 666.7 L510.6 666.8 L508.2 666.4 L505.9 667.1 L503.4 667.3 L501 667.9 L498.5 667.7 L496 668.1 L494.6 666.1Z" fill="#fff"/>
<path d="M507.6 678 L510.1 676.4 L512.6 674.7 L514.8 675.2 L517 675.9 L519.2 676.4 L520.6 678.8 L521.9 681.3 L519.5 683.3 L517.5 685.7 L515.2 685.3 L513.1 684.4 L510.9 683.7 L509.5 680.7Z" fill="#fff"/>
<path d="M526.5 671.4 L528.3 669.7 L530.5 668.5 L532.5 667.1 L534.7 668.5 L536.7 670.3 L539.1 671.4 L541.4 671.1 L543.6 670.5 L545.8 669.7 L548.2 670.3 L550.8 670.2 L553.2 671.3 L555.7 671.4 L557.8 672.4 L559.8 673.6 L562.1 674.3 L564 675.7 L565 678.4 L565.7 681.3 L563.3 683 L561.5 685.4 L559 687 L556.6 688.2 L554.1 688.8 L551.6 689.6 L549.1 690.3 L546.7 689.9 L544.2 689.4 L541.8 689 L540.5 687.2 L539.3 685.4 L538.5 683.3 L537.5 681.3 L535.2 680.7 L533 679.7 L530.8 679 L529.4 676.4 L528.1 673.8Z" fill="#fff"/>
<path d="M529.2 694.6 L531.6 692.6 L534.1 690.6 L537.5 692.3 L536 694.1 L535.1 696.3 L530.8 697Z" fill="#fff"/>
<path d="M574 707.9 L575.8 706.4 L577.3 704.6 L580 705.7 L582.9 705.7 L585.6 706.9 L588.3 707.6 L590.4 709.5 L593.2 710 L595.6 711.2 L598.2 712 L600.6 713.3 L603 714.5 L605.5 715.5 L607.9 716.7 L610.5 717.6 L613 718.5 L615.5 719.5 L616.6 721.7 L618.2 723.5 L619.3 725.7 L620.5 727.8 L622.5 729.7 L624.8 731.3 L627.1 732.8 L629.2 734.5 L631.7 735.9 L633.7 737.8 L637.1 740.1 L635.5 741.8 L634.9 744.1 L633.1 745.6 L632.1 747.7 L630.1 749.6 L627.6 751 L625.4 752.7 L623.3 753.5 L621.4 754.7 L619.7 756.1 L617.6 756.9 L615.5 757.7 L613.3 759.4 L611.1 761.2 L608.8 762.7 L606.8 764.6 L604.6 766.3 L602.2 767.7 L601 769.7 L600.2 771.8 L599.2 773.9 L598.2 776 L595.3 776.9 L592.2 777 L590.1 775.3 L588 773.7 L585.6 772.6 L584.7 770.3 L583.4 768.2 L582.3 766 L582.3 763.5 L582.1 761 L581.4 758.5 L581.6 756 L580.1 753.9 L578.7 751.8 L576.9 749.9 L575.6 747.7 L573.8 745.6 L572.2 743.4 L570.7 741.1 L569.7 738.3 L569 735.5 L570.1 733.5 L571.8 731.9 L573 729.9 L574 727.8 L575.1 725.6 L575.9 723.3 L577.3 721.2 L578.2 719.1 L578.7 716.8 L579 714.5 L577 712.6 L575.9 709.9Z" fill="#fff"/>
<path d="M631.2 737.2 L634 738.2 L637.1 740.1 L634.5 744.5 L632.1 747.7 L628.6 749.8 L630.5 743Z" fill="#f0d493" stroke-width="0.8"/>
</g>
<g fill="none" stroke="#1a1a1a" stroke-width="1.1"><path d="M413 652.5 L441.2 646.5 M540.8 739.4 L569 735.5 M617.1 782 L630.4 746.1"/></g>
<text x="371" y="656" font-size="10.4" class="b" textLength="35.5" lengthAdjust="spacingAndGlyphs" fill="#1a1a1a">Below</text>
<text x="500.4" y="736.1" font-size="10.4" class="b" textLength="32.2" lengthAdjust="spacingAndGlyphs" fill="#1a1a1a">Equal</text>
<text x="483.8" y="750.6" font-size="10.4" class="b" textLength="48.8" lengthAdjust="spacingAndGlyphs" fill="#1a1a1a">Chances</text>
<text x="575.1" y="786.2" font-size="10.4" class="b" textLength="35.2" lengthAdjust="spacingAndGlyphs" fill="#1a1a1a">Below</text>
<text x="800.5" y="627.2" font-size="12" class="b" textLength="65.6" lengthAdjust="spacingAndGlyphs" fill="#1a1a1a">Probability</text>
<text x="780.9" y="641.7" font-size="12" class="b" textLength="104.7" lengthAdjust="spacingAndGlyphs" fill="#1a1a1a">(Percent Chance)</text>
<text x="732.4" y="656.9" font-size="10.3" class="b" textLength="30.6" lengthAdjust="spacingAndGlyphs" fill="#1a1a1a">Above</text>
<text x="730.1" y="668.1" font-size="10.3" class="b" textLength="34.5" lengthAdjust="spacingAndGlyphs" fill="#1a1a1a">Normal</text>
<text x="821.9" y="656.9" font-size="10.3" class="b" textLength="22.8" lengthAdjust="spacingAndGlyphs" fill="#1a1a1a">Near</text>
<text x="815.7" y="668.1" font-size="10.3" class="b" textLength="34.9" lengthAdjust="spacingAndGlyphs" fill="#1a1a1a">Normal</text>
<text x="904.6" y="656.9" font-size="10.3" class="b" textLength="29.9" lengthAdjust="spacingAndGlyphs" fill="#1a1a1a">Below</text>
<text x="902.2" y="668.1" font-size="10.3" class="b" textLength="34.7" lengthAdjust="spacingAndGlyphs" fill="#1a1a1a">Normal</text>
<text x="818.8" y="721.3" font-size="10.3" class="b" textLength="28.2" lengthAdjust="spacingAndGlyphs" fill="#1a1a1a">Equal</text>
<text x="812.1" y="732.2" font-size="10.3" class="b" textLength="41.8" lengthAdjust="spacingAndGlyphs" fill="#1a1a1a">Chances</text>
<rect x="721" y="673.1" width="25.8" height="12.6" fill="#b3d9ab" stroke="#d4d4d4" stroke-width="0.6"/>
<rect x="919.3" y="673.1" width="25.2" height="12.6" fill="#f0d493" stroke="#d4d4d4" stroke-width="0.6"/>
<text x="749.9" y="682.3" font-size="10.1" textLength="34.8" lengthAdjust="spacingAndGlyphs" fill="#333">33-40%</text>
<text x="881.1" y="682.3" font-size="10.1" textLength="34.8" lengthAdjust="spacingAndGlyphs" fill="#333">33-40%</text>
<rect x="721" y="689.3" width="25.8" height="12.6" fill="#94cd7e" stroke="#d4d4d4" stroke-width="0.6"/>
<rect x="919.3" y="689.3" width="25.2" height="12.6" fill="#d8a74e" stroke="#d4d4d4" stroke-width="0.6"/>
<text x="749.9" y="698.3" font-size="10.1" textLength="34.8" lengthAdjust="spacingAndGlyphs" fill="#333">40-50%</text>
<text x="881.1" y="698.3" font-size="10.1" textLength="34.8" lengthAdjust="spacingAndGlyphs" fill="#333">40-50%</text>
<rect x="721" y="705.3" width="25.8" height="12.6" fill="#48ae38" stroke="#d4d4d4" stroke-width="0.6"/>
<rect x="919.3" y="705.3" width="25.2" height="12.6" fill="#bb6d33" stroke="#d4d4d4" stroke-width="0.6"/>
<text x="749.9" y="714.5" font-size="10.1" textLength="34.8" lengthAdjust="spacingAndGlyphs" fill="#333">50-60%</text>
<text x="881.1" y="714.5" font-size="10.1" textLength="34.8" lengthAdjust="spacingAndGlyphs" fill="#333">50-60%</text>
<rect x="721" y="721.5" width="25.8" height="12.6" fill="#079a2b" stroke="#d4d4d4" stroke-width="0.6"/>
<rect x="919.3" y="721.5" width="25.2" height="12.6" fill="#9b5031" stroke="#d4d4d4" stroke-width="0.6"/>
<text x="749.9" y="730.6" font-size="10.1" textLength="34.8" lengthAdjust="spacingAndGlyphs" fill="#333">60-70%</text>
<text x="881.1" y="730.6" font-size="10.1" textLength="34.8" lengthAdjust="spacingAndGlyphs" fill="#333">60-70%</text>
<rect x="721" y="737.6" width="25.8" height="12.6" fill="#057a20" stroke="#d4d4d4" stroke-width="0.6"/>
<rect x="919.3" y="737.6" width="25.2" height="12.6" fill="#934639" stroke="#d4d4d4" stroke-width="0.6"/>
<text x="749.9" y="746.7" font-size="10.1" textLength="34.8" lengthAdjust="spacingAndGlyphs" fill="#333">70-80%</text>
<text x="881.1" y="746.7" font-size="10.1" textLength="34.8" lengthAdjust="spacingAndGlyphs" fill="#333">70-80%</text>
<rect x="721" y="753.8" width="25.8" height="12.6" fill="#2b5c10" stroke="#d4d4d4" stroke-width="0.6"/>
<rect x="919.3" y="753.8" width="25.2" height="12.6" fill="#804000" stroke="#d4d4d4" stroke-width="0.6"/>
<text x="749.9" y="762.9" font-size="10.1" textLength="34.8" lengthAdjust="spacingAndGlyphs" fill="#333">80-90%</text>
<text x="881.1" y="762.9" font-size="10.1" textLength="34.8" lengthAdjust="spacingAndGlyphs" fill="#333">80-90%</text>
<rect x="721" y="770" width="25.8" height="12.6" fill="#244d0a" stroke="#d4d4d4" stroke-width="0.6"/>
<rect x="919.3" y="770" width="25.2" height="12.6" fill="#4f2f2f" stroke="#d4d4d4" stroke-width="0.6"/>
<text x="749.9" y="779" font-size="10.1" textLength="40.3" lengthAdjust="spacingAndGlyphs" fill="#333">90-100%</text>
<text x="875.6" y="779" font-size="10.1" textLength="40.3" lengthAdjust="spacingAndGlyphs" fill="#333">90-100%</text>
<rect x="801" y="673.1" width="25.5" height="12.6" fill="#d0d0d0" stroke="#dcdcdc" stroke-width="0.6"/>
<rect x="801" y="689.3" width="25.5" height="12.6" fill="#9e9e9e" stroke="#c8c8c8" stroke-width="0.6"/>
<text x="829.5" y="682.3" font-size="10.1" textLength="34.8" lengthAdjust="spacingAndGlyphs" fill="#333">33-40%</text>
<text x="829.5" y="698.3" font-size="10.1" textLength="34.8" lengthAdjust="spacingAndGlyphs" fill="#333">40-50%</text>
<rect x="820.2" y="737.7" width="25.8" height="12.8" fill="#fff" stroke="#444" stroke-width="0.9"/>
<text x="658.7" y="684.4" font-size="12.2" textLength="39.7" lengthAdjust="spacingAndGlyphs" fill="#1a1a1a">Leaning</text>
<text x="662.8" y="697.7" font-size="12.2" textLength="31.5" lengthAdjust="spacingAndGlyphs" fill="#1a1a1a">Above</text>
<text x="664.4" y="743.2" font-size="12.2" textLength="28.8" lengthAdjust="spacingAndGlyphs" fill="#1a1a1a">Likely</text>
<text x="662.8" y="756.1" font-size="12.2" textLength="31.5" lengthAdjust="spacingAndGlyphs" fill="#1a1a1a">Above</text>
<text x="967.7" y="683.9" font-size="12.2" textLength="39.5" lengthAdjust="spacingAndGlyphs" fill="#1a1a1a">Leaning</text>
<text x="972" y="697" font-size="12.2" textLength="31.1" lengthAdjust="spacingAndGlyphs" fill="#1a1a1a">Below</text>
<text x="972.5" y="743" font-size="12.2" textLength="29.9" lengthAdjust="spacingAndGlyphs" fill="#1a1a1a">Likely</text>
<text x="972" y="755.8" font-size="12.2" textLength="31.1" lengthAdjust="spacingAndGlyphs" fill="#1a1a1a">Below</text>
<g fill="none" stroke="#333" stroke-width="0.9">
<path d="M718.7 673 C711.5 673 710.7 674.8 710.7 679.1 C710.7 684.7 707.3 687.6 701 687.6 C707.3 687.6 710.7 690.4 710.7 695.7 C710.7 699.9 711.5 701.6 718.7 701.6"/>
<path d="M718.7 705 C711.5 705 710.7 709.7 710.7 721.3 C710.7 736.1 707.3 743.9 701 743.9 C707.3 743.9 710.7 751.7 710.7 766.5 C710.7 778.2 711.5 782.9 718.7 782.9"/>
<path d="M946.8 673.1 C954.3 673.1 955.1 674.8 955.1 679.1 C955.1 684.5 958.6 687.4 965.2 687.4 C958.6 687.4 955.1 690.4 955.1 696 C955.1 700.4 954.3 702.2 946.8 702.2"/>
<path d="M946.8 705.3 C954.3 705.3 955.1 710 955.1 721.6 C955.1 736.3 958.6 744.1 965.2 744.1 C958.6 744.1 955.1 751.8 955.1 766.5 C955.1 778.1 954.3 782.7 946.8 782.7"/>
</g>
<g>
<circle cx="46.6" cy="36.6" r="27.1" fill="#2a93d1"/><circle cx="46.6" cy="36.6" r="20.6" fill="#fff"/>
<path id="sealtop" d="M24.7 36.6 A21.9 21.9 0 0 1 68.5 36.6" fill="none"/><path id="sealbot" d="M20.9 36.6 A25.7 25.7 0 0 0 72.3 36.6" fill="none"/>
<text font-size="4.4" class="b" fill="#fff"><textPath href="#sealtop" startOffset="50%" text-anchor="middle" textLength="60" lengthAdjust="spacingAndGlyphs">DEPARTMENT OF COMMERCE</textPath></text>
<text font-size="4.4" class="b" fill="#fff"><textPath href="#sealbot" startOffset="50%" text-anchor="middle" textLength="72" lengthAdjust="spacingAndGlyphs">UNITED STATES OF AMERICA</textPath></text>
<circle cx="22.9" cy="36.8" r="0.7" fill="#fff"/><circle cx="70.4" cy="36.8" r="0.7" fill="#fff"/>
<path d="M35.4 32.6 L58.4 32.6 L57.6 34 L57.6 43.6 L36.2 43.6 L36.2 34Z" fill="#2a86c6"/>
<path d="M36.2 43.6 L57.6 43.6 L57.6 49.5 Q57 53.5 47 55.4 Q37 53.5 36.2 49.5Z" fill="#e2b820"/>
<path d="M46.3 43.6 L47.5 43.6 L47.5 55 L46.3 55Z" fill="#9a9a8a"/>
<path d="M39.5 39.5 L44 36 L50 35.5 L53 39.5 L48 40.8 L42 40.6Z" fill="#dfe9f2"/><path d="M38.5 40.8 L54.5 40.4" stroke="#456" stroke-width="0.6"/>
<path d="M39.8 20 L44.5 24.5 L46.9 30.6 L49.4 24.5 L54 20 L51.5 27.5 L48.6 31.5 L45.2 31.5 L42.3 27.5Z" fill="#b8962a"/><circle cx="46.9" cy="24" r="1.3" fill="#e8e2cc"/><path d="M43 31.2 L51 31.2 L51 32.6 L43 32.6Z" fill="#8d8d80"/>
</g>
<g>
<path d="M950.5 29.4 C954 30.6 958.2 36.1 963.1 41 C966 44 968 46.5 968.4 48 C974 48.5 980.6 46.3 989.6 43.3 C994.3 37.1 998.2 31.3 1002.7 25 A28 28 0 1 1 950.5 29.4Z" fill="#0a8bcd"/>
<path d="M955.1 20 A28 28 0 0 1 999.4 19.6 C994.3 25.4 990.4 31.3 986.5 38.1 C984 41 981 42 977.2 42 C972.8 41.5 967.9 35.2 963.1 28.3 C960.5 24.5 958 21.8 955.1 20Z" fill="#0b3a8f"/>
<text x="966" y="27.4" font-size="9.6" class="b" fill="#fff" textLength="22.6" lengthAdjust="spacingAndGlyphs">NOAA</text>
</g>
</svg></body></html>
